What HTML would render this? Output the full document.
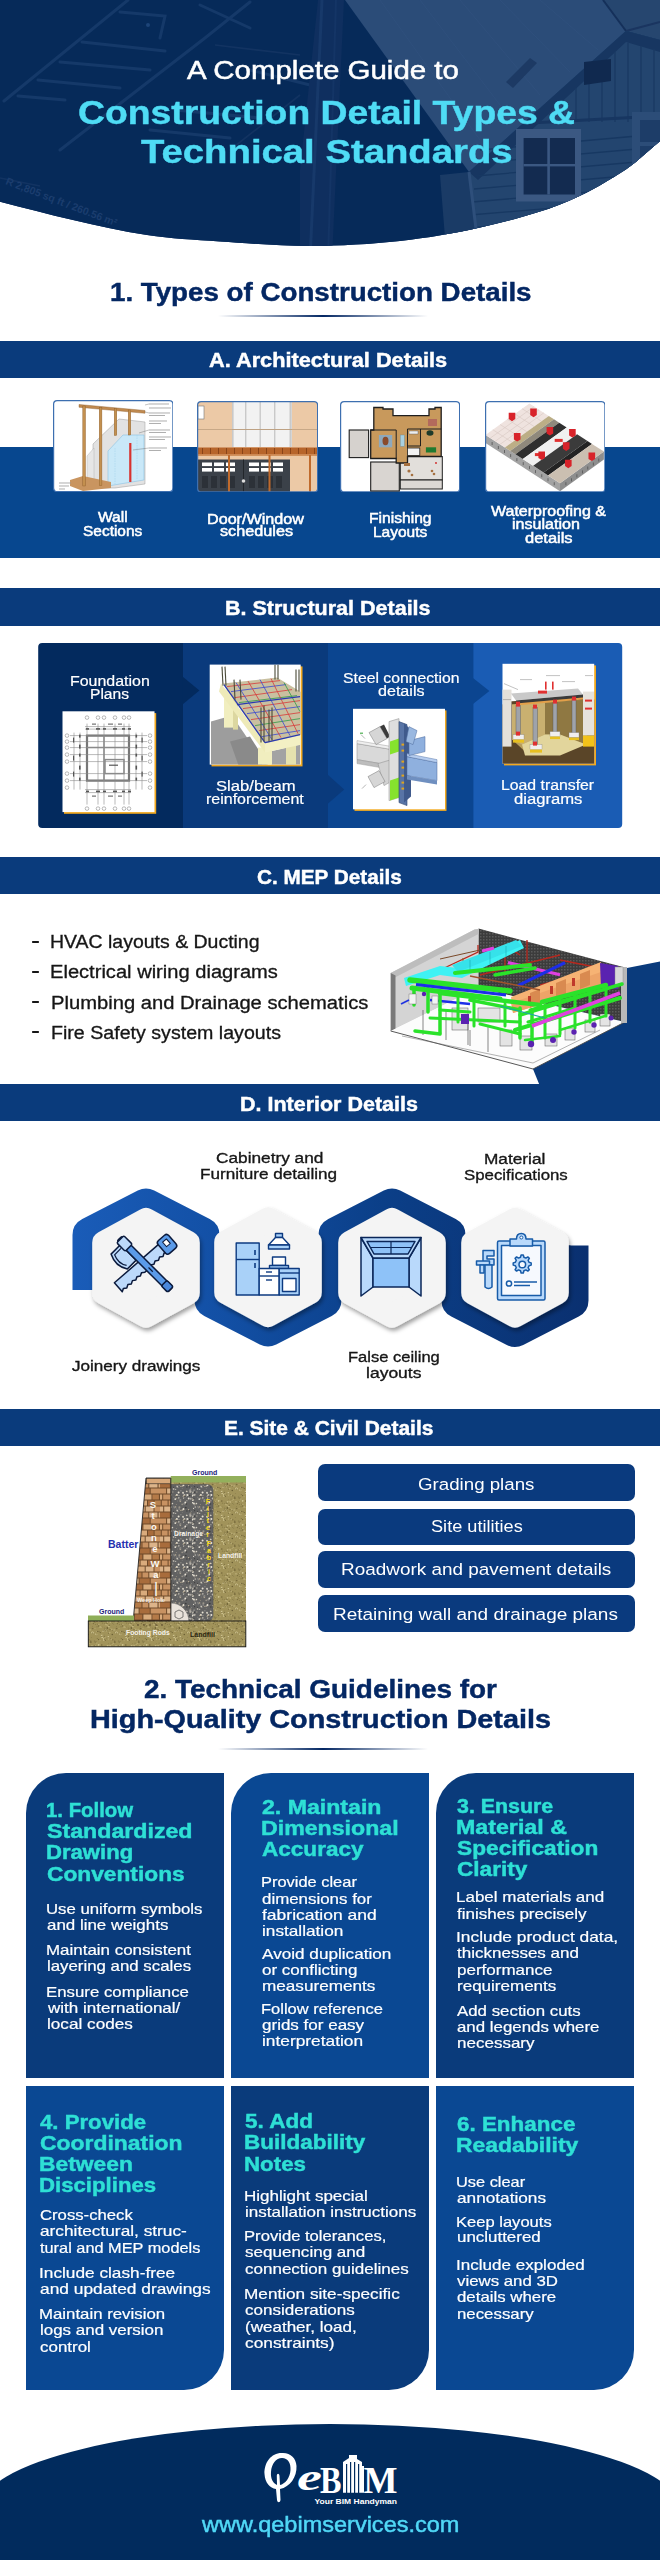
<!DOCTYPE html>
<html><head><meta charset="utf-8">
<style>
*{margin:0;padding:0;box-sizing:border-box}
html,body{width:660px;height:2560px;background:#fff;overflow:hidden}
body{position:relative;font-family:"Liberation Sans",sans-serif}
.a{position:absolute}
.t{position:absolute;white-space:nowrap;line-height:1;transform-origin:0 0}
.bar{position:absolute;left:0;width:660px;background:#0a3b7c}
.card{position:absolute;width:198px;height:304px}
.dk{background:#0a3b7b}
.lt{background:#0a4893}
.btn{position:absolute;left:318px;width:317px;height:37px;border-radius:7px;background:#0a3a7e}
.pic{position:absolute;background:#fff;overflow:hidden}
.ab{border:1.3px solid #3d6fb0;border-radius:4px}
.sh{box-shadow:2px 2px 0 #f2a91f}
</style></head><body>

<!-- HEADER -->
<svg class="a" style="left:0;top:0" width="660" height="260" viewBox="0 0 660 260">
  <defs>
    <clipPath id="hc"><path d="M0 0 H660 V141.2 C646.7 151.9 636.7 162.8 620.0 173.3 C603.3 183.9 583.3 195.4 560.0 204.5 C536.7 213.6 506.7 221.5 480.0 227.6 C453.3 233.7 428.3 237.9 400.0 241.0 C371.7 244.1 340.0 245.9 310.0 246.0 C280.0 246.1 247.2 243.3 220.0 241.5 C192.8 239.7 171.5 238.6 147.0 235.0 C122.5 231.4 97.5 225.6 73.0 220.0 C48.5 214.4 24.3 207.8 0.0 201.7 Z"/></clipPath>
  </defs>
  <g clip-path="url(#hc)">
    <rect width="660" height="260" fill="#0b2b5b"/>
    <rect x="0" y="0" width="660" height="260" fill="#062a59"/>
    <!-- faint blueprint lines -->
    <g stroke="#173b6b" stroke-width="3" fill="none" stroke-linecap="round" opacity="0.9">
      <path d="M4 101 L128 0"/>
      <path d="M60 150 L205 38 L250 2"/>
      <path d="M82 42 L165 51"/>
      <path d="M60 62 L150 70"/>
      <path d="M38 80 L120 88"/>
      <path d="M18 96 L65 100"/>
      <path d="M120 12 L165 16 L160 38"/>
      <path d="M200 5 L250 28"/>
      <path d="M175 110 L260 118"/>
      <path d="M150 130 L230 138"/>
      <path d="M250 70 L330 90"/>
    </g>
    <g stroke="#143563" stroke-width="1.6" fill="none" opacity="0.9">
      <path d="M215 45 L300 55"/><path d="M230 150 L300 95"/><path d="M0 178 L40 186"/>
    </g>
    <circle cx="148" cy="25" r="2" fill="#1d4478"/>
    <text x="5" y="184" font-family="Liberation Sans" font-size="10.5" font-weight="bold" fill="#1b3d6e" transform="rotate(21 5 184)">R  2,805 sq ft / 260.56 m²</text>
    <!-- pencil -->
    <polygon points="300,170 318,0 344,0 332,260 300,260" fill="#0f2f5f"/>
    <line x1="322" y1="0" x2="310" y2="260" stroke="#17396a" stroke-width="3"/>
    <line x1="336" y1="0" x2="328" y2="260" stroke="#143566" stroke-width="2"/>
    <!-- roof plane -->
    <polygon points="345,0 603,0 626,31 469,172" fill="#2b4c78"/>
    <g stroke="#30517d" stroke-width="0.8">
      <line x1="380" y1="0" x2="480" y2="140"/><line x1="420" y1="0" x2="510" y2="118"/><line x1="460" y1="0" x2="540" y2="95"/><line x1="500" y1="0" x2="570" y2="72"/><line x1="540" y1="0" x2="598" y2="50"/>
    </g>
    <polygon points="506,82 530,58 537,63 513,88" fill="#1d3a64"/>
    <!-- right roof -->
    <polygon points="603,0 660,0 660,40 626,31" fill="#26466f"/>
    <line x1="603" y1="0" x2="626" y2="31" stroke="#15305a" stroke-width="2"/>
    <line x1="626" y1="31" x2="660" y2="22" stroke="#1a3560" stroke-width="2"/>
    <!-- gable wall -->
    <polygon points="626,31 660,40 660,260 440,260 469,172" fill="#23456f"/>
    <polygon points="626,31 660,40 660,52 626,42 478,180 469,172" fill="#173661"/>
    <g stroke="#1a3a64" stroke-width="1.4">
      <line x1="576" y1="88" x2="576" y2="122"/><line x1="589" y1="76" x2="589" y2="122"/><line x1="602" y1="64" x2="602" y2="122"/><line x1="615" y1="52" x2="615" y2="122"/>
      <line x1="628" y1="43" x2="628" y2="122"/><line x1="641" y1="46" x2="641" y2="122"/><line x1="654" y1="49" x2="654" y2="122"/>
      <line x1="563" y1="100" x2="563" y2="122"/><line x1="550" y1="112" x2="550" y2="122"/>
    </g>
    <line x1="530" y1="123" x2="660" y2="116" stroke="#173661" stroke-width="3"/>
    <g stroke="#173862" stroke-width="1.3">
      <line x1="480" y1="150" x2="660" y2="134"/><line x1="478" y1="163" x2="660" y2="147"/><line x1="476" y1="176" x2="660" y2="160"/>
      <line x1="474" y1="189" x2="660" y2="173"/><line x1="472" y1="202" x2="660" y2="186"/><line x1="470" y1="215" x2="660" y2="199"/>
      <line x1="468" y1="228" x2="660" y2="212"/><line x1="466" y1="241" x2="660" y2="225"/>
    </g>
    <polygon points="584,62 611,59 611,81 584,85" fill="#10294f"/>
    <!-- window -->
    <rect x="516" y="129" width="65" height="72.5" fill="#3b5882"/>
    <rect x="523.6" y="138" width="51.4" height="56.5" fill="#132b50"/>
    <rect x="547.3" y="138" width="2.6" height="56.5" fill="#3b5882"/>
    <rect x="523.6" y="164" width="51.4" height="2.4" fill="#3b5882"/>
    <rect x="632" y="112" width="30" height="60" fill="#2c4d78"/>
    <rect x="640" y="120" width="22" height="22" fill="#1d3d68"/>
    <rect x="640" y="146" width="22" height="22" fill="#1d3d68"/>
    <!-- fascia at left of wall -->
    <polygon points="440,175 469,172 478,245 446,250" fill="#1a3b66"/>
    <line x1="469" y1="172" x2="478" y2="245" stroke="#2e4f7b" stroke-width="3"/>

  </g>
</svg>

<!-- underline 1 -->
<div class="a" style="left:218px;top:315px;width:210px;height:2px;background:linear-gradient(90deg,rgba(4,39,99,0),#042763 50%,rgba(4,39,99,0))"></div>

<!-- A -->
<div class="bar" style="top:340.5px;height:37.8px"></div>
<div class="bar" style="top:446.7px;height:111.7px;background:#07478f"></div>
<!-- card 1: wall section -->
<svg class="a" style="left:52.5px;top:400.2px" width="120.5" height="92.2" viewBox="0 0 120.5 92.2">
  <rect x="0.6" y="0.6" width="119.3" height="91" rx="3.5" fill="#fff" stroke="#3d6fb0" stroke-width="1.2"/>
  <polygon points="40,44 66,19 92,22 92,84 62,88 40,88" fill="#e2e2e2" stroke="#9a9a9a" stroke-width="0.5"/>
  <polygon points="34,56 41,48 41,88 34,88" fill="#e6e6e6" stroke="#aaa" stroke-width="0.4"/>
  <polygon points="55,51 70,35 91,35 91,80 55,86" fill="#c9e8f8" stroke="#8cc3e3" stroke-width="0.6"/>
  <line x1="62" y1="48" x2="62" y2="84" stroke="#9fd0ea" stroke-width="0.5" stroke-dasharray="1.5 1"/>
  <line x1="84" y1="35" x2="84" y2="80" stroke="#9fd0ea" stroke-width="0.5" stroke-dasharray="1.5 1"/>
  <polygon points="17,80 30,76 58,82 58,88 30,91 17,86" fill="#c99560"/>
  <polygon points="26,4.5 92,10.5 92,13.3 26,7.3" fill="#c08a50" stroke="#8a5a28" stroke-width="0.4"/>
  <g fill="#c3904f" stroke="#8a5a28" stroke-width="0.4">
    <rect x="29.8" y="6" width="2.7" height="80"/>
    <rect x="46.2" y="7.5" width="2.7" height="78"/>
    <rect x="61.2" y="8.5" width="2.6" height="27"/>
    <rect x="75.2" y="10" width="2.6" height="25"/>
  </g>
  <rect x="76.2" y="43" width="2.2" height="39" fill="#d8322e"/>
  <g stroke="#999" stroke-width="0.8">
    <line x1="96" y1="4" x2="116" y2="4"/><line x1="96" y1="8" x2="118" y2="8"/>
    <line x1="96" y1="13" x2="117" y2="13"/><line x1="96" y1="15.5" x2="112" y2="15.5"/>
    <line x1="96" y1="21" x2="114" y2="21"/><line x1="96" y1="23.5" x2="108" y2="23.5"/>
    <line x1="96" y1="30" x2="117" y2="30"/><line x1="96" y1="32.5" x2="113" y2="32.5"/>
    <line x1="96" y1="37" x2="118" y2="37"/><line x1="96" y1="39.5" x2="112" y2="39.5"/>
    <line x1="96" y1="48" x2="114" y2="48"/><line x1="96" y1="50.5" x2="108" y2="50.5"/>
    <line x1="6" y1="83" x2="18" y2="83"/><line x1="6" y1="86" x2="16" y2="86"/><line x1="6" y1="89" x2="12" y2="89"/>
  </g>
  <g stroke="#666" stroke-width="0.4"><line x1="92" y1="5" x2="96" y2="4"/><line x1="92" y1="12" x2="96" y2="13"/><line x1="86" y1="33" x2="96" y2="30"/><line x1="80" y1="50" x2="96" y2="48"/></g>
</svg>
<!-- card 2: door/window -->
<svg class="a" style="left:196.7px;top:400.8px" width="121.3" height="91.5" viewBox="0 0 121.3 91.5">
  <defs><clipPath id="c2c"><rect x="0.6" y="0.6" width="120" height="90.3" rx="3.5"/></clipPath></defs>
  <g clip-path="url(#c2c)">
    <rect width="121.3" height="91.5" fill="#ecc9a6"/>
    <rect x="35" y="0" width="60" height="46" fill="#f2f2f2"/>
    <g fill="#c9c9c9"><rect x="35" y="0" width="1.6" height="46"/><rect x="48" y="0" width="1.4" height="46"/><rect x="62.5" y="0" width="1.4" height="46"/><rect x="77" y="0" width="1.4" height="46"/><rect x="92.5" y="0" width="2.2" height="46"/></g>
    <rect x="35" y="28" width="60" height="1" fill="#b8a898"/>
    <rect x="0" y="28" width="121" height="0.8" fill="#c0a080"/>
    <rect x="1" y="5" width="6" height="13" fill="#fff" stroke="#777" stroke-width="0.6"/>
    <rect x="0" y="46.5" width="121.3" height="7" fill="#b7652b"/>
    <g fill="#8a4418"><rect x="5" y="47" width="1" height="6"/><rect x="13" y="47" width="1" height="6"/><rect x="21" y="47" width="1" height="6"/><rect x="29" y="47" width="1" height="6"/><rect x="37" y="47" width="1" height="6"/><rect x="45" y="47" width="1" height="6"/><rect x="53" y="47" width="1" height="6"/><rect x="61" y="47" width="1" height="6"/><rect x="69" y="47" width="1" height="6"/><rect x="77" y="47" width="1" height="6"/><rect x="85" y="47" width="1" height="6"/><rect x="93" y="47" width="1" height="6"/><rect x="101" y="47" width="1" height="6"/><rect x="109" y="47" width="1" height="6"/><rect x="117" y="47" width="1" height="6"/></g>
    <rect x="0" y="53.5" width="121.3" height="1.2" fill="#c77a3e"/>
    <rect x="0" y="58.5" width="93" height="33" fill="#3b4149"/>
    <g fill="#fff"><rect x="5" y="61.5" width="10" height="3.6"/><rect x="17" y="61.5" width="10" height="3.6"/><rect x="29" y="61.5" width="9" height="3.6"/><rect x="5" y="67" width="10" height="3.6"/><rect x="17" y="67" width="10" height="3.6"/><rect x="29" y="67" width="9" height="3.6"/>
      <rect x="52" y="61.5" width="10" height="3.6"/><rect x="64" y="61.5" width="10" height="3.6"/><rect x="76" y="61.5" width="10" height="3.6"/><rect x="52" y="67" width="10" height="3.6"/><rect x="64" y="67" width="10" height="3.6"/><rect x="76" y="67" width="10" height="3.6"/></g>
    <g fill="#2c3138"><rect x="5" y="75" width="6" height="12"/><rect x="14" y="75" width="6" height="12"/><rect x="23" y="75" width="6" height="12"/><rect x="32" y="75" width="6" height="12"/><rect x="52" y="75" width="6" height="12"/><rect x="61" y="75" width="6" height="12"/><rect x="70" y="75" width="6" height="12"/><rect x="79" y="75" width="6" height="12"/></g>
    <rect x="46" y="58.5" width="1" height="33" fill="#22262b"/>
    <circle cx="46.5" cy="80" r="1.8" fill="#ddd"/>
    <g fill="#c06a2c"><rect x="31" y="54" width="2" height="38"/><rect x="71.5" y="54" width="2" height="38"/><rect x="112" y="54" width="2" height="38"/></g>
  </g>
  <rect x="0.6" y="0.6" width="120" height="90.3" rx="3.5" fill="none" stroke="#3d6fb0" stroke-width="1.2"/>
</svg>
<!-- card 3: floor plan -->
<svg class="a" style="left:340.1px;top:400.8px" width="120.3" height="91.5" viewBox="0 0 120.3 91.5">
  <rect x="0.6" y="0.6" width="119" height="90.3" rx="3.5" fill="#fff" stroke="#3d6fb0" stroke-width="1.2"/>
  <rect x="9.2" y="29" width="19.4" height="27.6" fill="#d6d2ce" stroke="#1e1e1e" stroke-width="1.1"/>
  <rect x="30.7" y="61" width="28.6" height="29" fill="#d9d5d1" stroke="#1e1e1e" stroke-width="1.1"/>
  <rect x="60.3" y="55.5" width="42" height="23.5" fill="#e2dfdb" stroke="#1e1e1e" stroke-width="1"/>
  <rect x="60.3" y="79" width="42" height="9" fill="#dcd8d4" stroke="#1e1e1e" stroke-width="1"/>
  <path d="M33.8 6.5 H43 V8 H53 V14.6 H89 V8 H95 V6.5 H101.2 V55.5 H67.5 V62 H56.2 V57.5 H30.7 V29 H33.8 Z" fill="#c8995c" stroke="#1e1e1e" stroke-width="1.3"/>
  
  <g stroke="#1e1e1e" stroke-width="1" fill="none">
    <line x1="30.7" y1="29" x2="56.2" y2="29"/><line x1="56.2" y1="29" x2="56.2" y2="57.5"/>
    <line x1="67.5" y1="28" x2="101.2" y2="28"/><line x1="67.5" y1="28" x2="67.5" y2="47"/><line x1="80.5" y1="28" x2="80.5" y2="45"/>
    <line x1="80.5" y1="45" x2="67.5" y2="45"/>
  </g>
  <rect x="67.5" y="47" width="12.3" height="7.5" fill="#f2f2f2" stroke="#1e1e1e" stroke-width="0.8"/>
  <rect x="38.9" y="34" width="13.3" height="12.3" fill="#8ea8bc"/>
  <ellipse cx="45.5" cy="40" rx="3" ry="4.2" fill="#8a4a2a"/>
  <rect x="60.3" y="34" width="4.1" height="11.3" fill="#a8d0e0" stroke="#6a8a9a" stroke-width="0.4"/>
  <rect x="85.9" y="46.3" width="10.2" height="5.2" fill="#1f7a30"/>
  <ellipse cx="90" cy="32" rx="3.5" ry="2.8" fill="#1d3a2a"/>
  <rect x="88" y="18" width="9" height="7" fill="#b36a5c"/>
  <rect x="69" y="30" width="9" height="3" fill="#eeeeee" stroke="#555" stroke-width="0.4"/>
  <g fill="#a57040"><circle cx="92" cy="70" r="1.3"/><circle cx="94" cy="73" r="1.3"/><circle cx="69" cy="70" r="1.6"/><circle cx="72" cy="74" r="1.3"/><rect x="64" y="62" width="6" height="3"/></g>
  <circle cx="96" cy="62" r="0.9" fill="#d02020"/>
</svg>
<!-- card 4: waterproofing -->
<svg class="a" style="left:484.7px;top:400.8px" width="120.5" height="91.5" viewBox="0 0 120.5 91.5">
  <rect x="0.6" y="0.6" width="119.3" height="90.3" rx="3.5" fill="#fff"/>
  <polygon points="0.5,34.0 75.0,82.2 75.0,90.2 0.5,42.0" fill="#a3a3a3"/>
  <polygon points="75.0,82.2 118.9,50.6 118.9,58.6 75.0,90.2" fill="#8e8e8e"/>
  <polygon points="0.5,34.0 44.4,2.4 63.8,14.9 19.9,46.5" fill="#efe3df"/>
  <polygon points="19.9,46.5 63.8,14.9 69.0,18.3 25.1,49.9" fill="#bcae86"/>
  <polygon points="25.1,49.9 69.0,18.3 74.2,21.7 30.3,53.3" fill="#8f897c"/>
  <polygon points="30.3,53.3 74.2,21.7 81.7,26.5 37.8,58.1" fill="#2f2f2f"/>
  <polygon points="37.8,58.1 81.7,26.5 92.1,33.2 48.2,64.8" fill="#f0f0f0"/>
  <polygon points="48.2,64.8 92.1,33.2 102.5,40.0 58.6,71.6" fill="#3b3b3b"/>
  <polygon points="58.6,71.6 102.5,40.0 107.0,42.9 63.1,74.5" fill="#232323"/>
  <polygon points="63.1,74.5 107.0,42.9 118.9,50.6 75.0,82.2" fill="#cbbfb1"/>
  <line x1="7.8" y1="28.7" x2="27.2" y2="41.3" stroke="#d2c2bc" stroke-width="0.5"/>
  <line x1="15.1" y1="23.5" x2="34.5" y2="36.0" stroke="#d2c2bc" stroke-width="0.5"/>
  <line x1="22.4" y1="18.2" x2="41.8" y2="30.7" stroke="#d2c2bc" stroke-width="0.5"/>
  <line x1="29.8" y1="12.9" x2="49.1" y2="25.5" stroke="#d2c2bc" stroke-width="0.5"/>
  <line x1="37.1" y1="7.7" x2="56.5" y2="20.2" stroke="#d2c2bc" stroke-width="0.5"/>
  <line x1="5.3" y1="37.1" x2="49.2" y2="5.5" stroke="#d2c2bc" stroke-width="0.5"/>
  <line x1="10.2" y1="40.3" x2="54.1" y2="8.7" stroke="#d2c2bc" stroke-width="0.5"/>
  <line x1="15.0" y1="43.4" x2="58.9" y2="11.8" stroke="#d2c2bc" stroke-width="0.5"/>
  <rect x="6.7" y="41.0" width="0.8" height="3" fill="#555"/>
  <rect x="12.9" y="45.0" width="0.8" height="3" fill="#555"/>
  <rect x="19.1" y="49.0" width="0.8" height="3" fill="#555"/>
  <rect x="25.3" y="53.1" width="0.8" height="3" fill="#555"/>
  <rect x="31.5" y="57.1" width="0.8" height="3" fill="#555"/>
  <rect x="37.8" y="61.1" width="0.8" height="3" fill="#555"/>
  <rect x="44.0" y="65.1" width="0.8" height="3" fill="#555"/>
  <rect x="50.2" y="69.1" width="0.8" height="3" fill="#555"/>
  <rect x="56.4" y="73.2" width="0.8" height="3" fill="#555"/>
  <rect x="62.6" y="77.2" width="0.8" height="3" fill="#555"/>
  <rect x="68.8" y="81.2" width="0.8" height="3" fill="#555"/>
  <rect x="80.5" y="81.2" width="0.8" height="3" fill="#555"/>
  <rect x="86.0" y="77.3" width="0.8" height="3" fill="#555"/>
  <rect x="91.5" y="73.3" width="0.8" height="3" fill="#555"/>
  <rect x="97.0" y="69.4" width="0.8" height="3" fill="#555"/>
  <rect x="102.4" y="65.5" width="0.8" height="3" fill="#555"/>
  <rect x="107.9" y="61.5" width="0.8" height="3" fill="#555"/>
  <rect x="113.4" y="57.5" width="0.8" height="3" fill="#555"/>
  <rect x="49.9" y="52.1" width="8" height="3" fill="#e03030"/>
  <rect x="69.7" y="37.9" width="8" height="3" fill="#e03030"/>
  <path d="M23.7 11.7 h6.6 v6.4 l-3.3 2.2 l-3.3 -2.2 Z" fill="#d8232a"/>
  <path d="M45.2 7.6 h6.6 v6.4 l-3.3 2.2 l-3.3 -2.2 Z" fill="#d8232a"/>
  <path d="M28.9 32.0 h6.6 v6.4 l-3.3 2.2 l-3.3 -2.2 Z" fill="#d8232a"/>
  <path d="M61.6 26.0 h6.6 v6.4 l-3.3 2.2 l-3.3 -2.2 Z" fill="#d8232a"/>
  <path d="M53.4 50.5 h6.6 v6.4 l-3.3 2.2 l-3.3 -2.2 Z" fill="#d8232a"/>
  <path d="M84.1 28.0 h6.6 v6.4 l-3.3 2.2 l-3.3 -2.2 Z" fill="#d8232a"/>
  <path d="M77.9 41.3 h6.6 v6.4 l-3.3 2.2 l-3.3 -2.2 Z" fill="#d8232a"/>
  <path d="M80.0 58.7 h6.6 v6.4 l-3.3 2.2 l-3.3 -2.2 Z" fill="#d8232a"/>
  <path d="M103.5 51.5 h6.6 v6.4 l-3.3 2.2 l-3.3 -2.2 Z" fill="#d8232a"/>
  <rect x="0.6" y="0.6" width="119.3" height="90.3" rx="3.5" fill="none" stroke="#3d6fb0" stroke-width="1.2"/>
</svg>


<!-- B -->
<div class="bar" style="top:588px;height:37.6px"></div>
<svg class="a" style="left:38px;top:643.4px" width="584.5" height="185" viewBox="38 643.4 584.5 185">
  <defs><clipPath id="pc"><rect x="38.2" y="643.4" width="584" height="185" rx="4"/></clipPath></defs>
  <g clip-path="url(#pc)">
    <rect x="38" y="643" width="146" height="186" fill="#032a5e"/>
    <rect x="183" y="643" width="146" height="186" fill="#0a3a7c"/>
    <rect x="328" y="643" width="146" height="186" fill="#0b4590"/>
    <rect x="473.4" y="643" width="150" height="186" fill="#1a5cb4"/>
    <polygon points="182.5,677 199.4,691 182.5,705" fill="#032a5e"/>
    <polygon points="327.5,775 344.2,790 327.5,804.5" fill="#0a3a7c"/>
    <polygon points="473,678.5 489.4,691.5 473,704.5" fill="#0b4590"/>
  </g>
  <!-- foundation plan -->
  <rect x="64" y="713.5" width="92.2" height="100.7" fill="#f2a91f"/>
  <rect x="62.5" y="711.7" width="92" height="100.8" fill="#fff"/>
  <g stroke="#8a8a8a" stroke-width="0.6" fill="none">
    <rect x="87" y="736" width="42" height="45" stroke="#707070" stroke-width="2.2"/>
    <line x1="87" y1="748" x2="129" y2="748" stroke-width="1.5"/>
    <line x1="104" y1="736" x2="104" y2="781" stroke-width="1.5"/>
    <rect x="105" y="760" width="19" height="14" stroke-width="1.5"/>
    <line x1="70" y1="736" x2="147" y2="736"/><line x1="70" y1="742" x2="147" y2="742"/>
    <line x1="70" y1="748" x2="147" y2="748"/><line x1="70" y1="755" x2="147" y2="755"/>
    <line x1="70" y1="762" x2="147" y2="762"/><line x1="70" y1="774" x2="147" y2="774"/>
    <line x1="70" y1="781" x2="147" y2="781"/>
    <line x1="87" y1="724" x2="87" y2="805"/><line x1="98" y1="724" x2="98" y2="805"/>
    <line x1="104" y1="724" x2="104" y2="805"/><line x1="115" y1="724" x2="115" y2="805"/>
    <line x1="124" y1="724" x2="124" y2="805"/><line x1="129" y1="724" x2="129" y2="805"/>
    <line x1="85" y1="727" x2="131" y2="727"/><line x1="85" y1="729.5" x2="131" y2="729.5"/>
    <line x1="85" y1="790" x2="131" y2="790"/><line x1="85" y1="793" x2="131" y2="793"/>
    <line x1="74" y1="733" x2="74" y2="790"/><line x1="142" y1="733" x2="142" y2="790"/>
    <line x1="80" y1="733" x2="80" y2="790"/><line x1="136" y1="733" x2="136" y2="790"/>
  </g>
  <g fill="#fff" stroke="#8a8a8a" stroke-width="0.6">
    <circle cx="87" cy="718" r="1.8"/><circle cx="98" cy="718" r="1.8"/><circle cx="104" cy="718" r="1.8"/><circle cx="115" cy="718" r="1.8"/><circle cx="124" cy="718" r="1.8"/><circle cx="129" cy="718" r="1.8"/>
    <circle cx="87" cy="809" r="1.8"/><circle cx="98" cy="809" r="1.8"/><circle cx="104" cy="809" r="1.8"/><circle cx="115" cy="809" r="1.8"/><circle cx="124" cy="809" r="1.8"/><circle cx="129" cy="809" r="1.8"/>
    <circle cx="67" cy="736" r="1.8"/><circle cx="67" cy="742" r="1.8"/><circle cx="67" cy="748" r="1.8"/><circle cx="67" cy="755" r="1.8"/><circle cx="67" cy="762" r="1.8"/><circle cx="67" cy="774" r="1.8"/><circle cx="67" cy="781" r="1.8"/><circle cx="67" cy="788" r="1.8"/>
    <circle cx="150" cy="736" r="1.8"/><circle cx="150" cy="742" r="1.8"/><circle cx="150" cy="748" r="1.8"/><circle cx="150" cy="755" r="1.8"/><circle cx="150" cy="762" r="1.8"/><circle cx="150" cy="774" r="1.8"/><circle cx="150" cy="781" r="1.8"/><circle cx="150" cy="788" r="1.8"/>
  </g>
  <g fill="#555">
    <rect x="86" y="728.5" width="3" height="1.6"/><rect x="96" y="728.5" width="4" height="1.6"/><rect x="103" y="728.5" width="3" height="1.6"/><rect x="113" y="728.5" width="4" height="1.6"/><rect x="122" y="728.5" width="3" height="1.6"/><rect x="128" y="728.5" width="3" height="1.6"/>
    <rect x="86" y="791" width="3" height="1.6"/><rect x="96" y="791" width="4" height="1.6"/><rect x="103" y="791" width="3" height="1.6"/><rect x="113" y="791" width="4" height="1.6"/><rect x="122" y="791" width="3" height="1.6"/><rect x="128" y="791" width="3" height="1.6"/>
    <rect x="79" y="735" width="1.6" height="3"/><rect x="79" y="745" width="1.6" height="4"/><rect x="79" y="754" width="1.6" height="3"/><rect x="79" y="766" width="1.6" height="4"/><rect x="79" y="778" width="1.6" height="3"/>
    <rect x="135.5" y="735" width="1.6" height="3"/><rect x="135.5" y="745" width="1.6" height="4"/><rect x="135.5" y="754" width="1.6" height="3"/><rect x="135.5" y="766" width="1.6" height="4"/><rect x="135.5" y="778" width="1.6" height="3"/>
    <rect x="73" y="738" width="1.2" height="5"/><rect x="73" y="756" width="1.2" height="5"/><rect x="73" y="772" width="1.2" height="5"/>
    <rect x="141.5" y="738" width="1.2" height="5"/><rect x="141.5" y="756" width="1.2" height="5"/><rect x="141.5" y="772" width="1.2" height="5"/>
    <rect x="92" y="724" width="4" height="1"/><rect x="108" y="724" width="5" height="1"/><rect x="118" y="724" width="4" height="1"/>
    <rect x="92" y="796" width="4" height="1"/><rect x="108" y="796" width="5" height="1"/><rect x="118" y="796" width="4" height="1"/>
    <rect x="109" y="765" width="9" height="1.2"/>
  </g>
  <!-- slab -->
  <rect x="211.5" y="666.8" width="91" height="100" fill="#f2a91f"/>
  <rect x="209.7" y="665" width="91" height="100" fill="#fff"/>
  <defs><clipPath id="slc"><rect x="209.7" y="665" width="91" height="100"/></clipPath></defs>
  <g clip-path="url(#slc)">
    <polygon points="211,722 232,716 262,760 262,770 211,770" fill="#9d9d9d"/>
    <polygon points="230,742 250,737 268,765 240,770" fill="#8a8a8a"/>
    <polygon points="270,752 300,745 300,770 272,770" fill="#a3a3a3"/>
    <rect x="224" y="690" width="10" height="38" fill="#f1eebf"/>
    <rect x="233" y="700" width="5" height="30" fill="#dcd7a0"/>
    <rect x="258" y="748" width="14" height="20" fill="#f1eebf"/>
    <rect x="286" y="742" width="10" height="25" fill="#e6e2ae"/>
    <polygon points="221,684 265,744 265,753 219,692" fill="#eeeab8"/>
    <polygon points="265,744 302,735 302,745 265,753" fill="#f3f0c4"/>
    <polygon points="223,684 277,678 302,693 302,735 265,744" fill="#c9c0a0"/>
    <g stroke-width="0.8" fill="none">
      <line x1="227" y1="687" x2="280" y2="681" stroke="#d83a3a"/>
      <line x1="231" y1="692" x2="286" y2="685" stroke="#3a48d0"/>
      <line x1="235" y1="698" x2="292" y2="690" stroke="#d83a3a"/>
      <line x1="239" y1="703" x2="297" y2="696" stroke="#2f9a48"/>
      <line x1="243" y1="709" x2="300" y2="701" stroke="#d83a3a"/>
      <line x1="247" y1="714" x2="300" y2="707" stroke="#3a48d0"/>
      <line x1="251" y1="720" x2="300" y2="713" stroke="#d83a3a"/>
      <line x1="255" y1="726" x2="300" y2="719" stroke="#2f9a48"/>
      <line x1="259" y1="731" x2="300" y2="725" stroke="#d83a3a"/>
      <line x1="262" y1="737" x2="300" y2="731" stroke="#3a48d0"/>
      <line x1="236" y1="683" x2="272" y2="740" stroke="#3a48d0"/>
      <line x1="248" y1="681.5" x2="281" y2="738" stroke="#d83a3a"/>
      <line x1="260" y1="680" x2="290" y2="736" stroke="#3a48d0"/>
      <line x1="271" y1="679" x2="298" y2="734" stroke="#d83a3a"/>
      <line x1="284" y1="683" x2="300" y2="712" stroke="#2f9a48"/>
      <line x1="224" y1="685" x2="265" y2="743" stroke="#2a3ab0" stroke-width="1.3"/>
      <line x1="265" y1="743" x2="300" y2="735" stroke="#2a3ab0" stroke-width="1.3"/>
      <line x1="237" y1="705" x2="300" y2="697" stroke="#2a3ab0" stroke-width="1.2"/>
    </g>
    <g stroke="#4a4a38" stroke-width="1.1">
      <line x1="222" y1="667" x2="223" y2="686"/><line x1="225" y1="667" x2="226" y2="686"/>
      <line x1="275" y1="665" x2="275" y2="680"/><line x1="278" y1="665" x2="278" y2="680"/>
      <line x1="296" y1="670" x2="296" y2="692"/><line x1="299" y1="670" x2="299" y2="692"/>
      <line x1="234" y1="680" x2="235" y2="700"/><line x1="240" y1="680" x2="241" y2="700"/>
      <line x1="261" y1="708" x2="261" y2="743"/><line x1="264" y1="706" x2="264" y2="742"/><line x1="269" y1="710" x2="269" y2="742"/><line x1="272" y1="708" x2="272" y2="741"/>
    </g>
  </g>
  <!-- steel -->
  <rect x="354.5" y="710.8" width="92" height="100.5" fill="#f2a91f"/>
  <rect x="353" y="709.2" width="92" height="100.5" fill="#fff"/>
  <g stroke-linejoin="round">
    <polygon points="357,744 392,750 392,766 357,760" fill="#d9d9d9" stroke="#8a8a8a" stroke-width="0.5"/>
    <polygon points="357,741 392,747 392,750 357,744" fill="#efefef" stroke="#8a8a8a" stroke-width="0.4"/>
    <polygon points="357,760 392,766 392,770 357,764" fill="#bdbdbd" stroke="#8a8a8a" stroke-width="0.4"/>
    <polygon points="378,764 398,758 398,778 384,786" fill="#d2d2d2" stroke="#8a8a8a" stroke-width="0.5"/>
    <polygon points="369,733 380,727 387,739 376,745" fill="#d6d6d6" stroke="#777" stroke-width="0.5"/>
    <polygon points="380,727 384,725 390,737 387,739" fill="#3a3a3a"/>
    <polygon points="368,777 379,771 385,782 374,788" fill="#d6d6d6" stroke="#777" stroke-width="0.5"/>
    <polygon points="389,722 399,719 399,798 389,801" fill="#dedede" stroke="#8a8a8a" stroke-width="0.5"/>
    <polygon points="390,742 399,739 399,752 390,755" fill="#86e22e"/>
    <polygon points="390,781 399,778 399,798 390,801" fill="#86e22e"/>
    <polygon points="399,722 407,725 407,806 399,803" fill="#5874a6" stroke="#2e4470" stroke-width="0.6"/>
    <polygon points="404,724 411,730 411,797 404,803" fill="#3f5a8c"/>
    <polygon points="407,757 437,763 437,781 407,776" fill="#8fb0de" stroke="#4d6a9c" stroke-width="0.5"/>
    <polygon points="407,754 437,760 437,763 407,757" fill="#b6cdef" stroke="#4d6a9c" stroke-width="0.4"/>
    <polygon points="407,776 437,781 437,785 407,780" fill="#6f8fc0"/>
    <polygon points="409,741 425,737 425,752 409,756" fill="#8fb0de" stroke="#4d6a9c" stroke-width="0.5"/>
    <polygon points="409,727 417,731 413,745 406,742" fill="#9ab8e0" stroke="#4d6a9c" stroke-width="0.5"/>
    <g fill="#e0a41c"><rect x="401.5" y="744" width="2.6" height="2"/><rect x="401.5" y="750" width="2.6" height="2"/><rect x="401.5" y="761" width="2.6" height="2"/><rect x="401.5" y="767" width="2.6" height="2"/><rect x="401.5" y="775" width="2.6" height="2"/><rect x="401.5" y="782" width="2.6" height="2"/><rect x="401.5" y="788" width="2.6" height="2"/></g>
    <g stroke="#6a6a6a" stroke-width="0.5"><line x1="361" y1="735" x2="365" y2="739"/><line x1="362" y1="789" x2="366" y2="785"/></g>
    <rect x="360" y="733" width="3" height="1.2" fill="#4caf50"/>
  </g>
  <!-- load transfer -->
  <rect x="504" y="665.8" width="92" height="100" fill="#f2a91f"/>
  <rect x="502.5" y="664.2" width="91.7" height="100" fill="#fff"/>
  <g>
    <polygon points="508,702 590,697 594.2,700 594.2,764.2 502.5,764.2 502.5,705" fill="#5a4528"/>
    <polygon points="512,705 588,700 586,745 560,752 525,752 512,740" fill="#b79d5c"/>
    <polygon points="512,705 545,703 545,735 522,745 512,740" fill="#c9b070"/>
    <polygon points="545,703 588,700 586,745 560,735 545,735" fill="#8f7842"/>
    <polygon points="522,745 545,735 560,735 586,745 560,756 525,756" fill="#e2d59c"/>
    <rect x="502.5" y="690" width="9" height="57" fill="#e4e0da"/>
    <rect x="583" y="692" width="11" height="44" fill="#e6e2dc"/>
    <rect x="583" y="736" width="11" height="11" fill="#f2c21a"/>
    <polygon points="511,694 578,689 583,695 516,701" fill="#c9c9c9"/>
    <polygon points="516,701 583,695 583,698 516,704" fill="#3a3a3a"/>
    <polygon points="516,704 583,698 583,700 516,706" fill="#e3a04a"/>
    <g fill="#9fa3aa" stroke="#555" stroke-width="0.4">
      <rect x="516" y="706" width="4.5" height="30"/><rect x="533" y="708" width="4.5" height="38"/>
      <rect x="553" y="703" width="4" height="30"/><rect x="572" y="700" width="4" height="34"/>
    </g>
    <g fill="#f0eeee" stroke="#777" stroke-width="0.3"><rect x="513" y="735" width="11" height="5"/><rect x="530" y="745" width="12" height="5"/><rect x="550" y="732" width="10" height="5"/><rect x="569" y="733" width="10" height="5"/></g>
    <g fill="#e8c020"><rect x="513" y="740" width="11" height="3"/><rect x="530" y="750" width="12" height="3"/><rect x="550" y="737" width="10" height="2.5"/><rect x="569" y="738" width="10" height="2.5"/></g>
    <g fill="#e03030"><rect x="538" y="691" width="9" height="3"/><rect x="545" y="682" width="1.6" height="8"/><rect x="552" y="682" width="1.6" height="8"/><rect x="516" y="702" width="4" height="5"/><rect x="533" y="705" width="4" height="4"/><rect x="572" y="697" width="4" height="4"/><rect x="553" y="700" width="4" height="4"/><rect x="516" y="732" width="4" height="4"/><rect x="533" y="742" width="4" height="4"/><rect x="585" y="700" width="7" height="2"/><rect x="585" y="708" width="7" height="2"/></g>
    <g stroke="#777" stroke-width="0.45"><line x1="504" y1="684" x2="518" y2="690"/><line x1="520" y1="680" x2="532" y2="680"/><line x1="546" y1="676" x2="560" y2="676"/><line x1="562" y1="682" x2="575" y2="682"/><line x1="585" y1="676" x2="593" y2="676"/><line x1="503" y1="700" x2="511" y2="700"/></g>
  </g>
</svg>


<!-- C -->
<div class="bar" style="top:857.3px;height:37.2px"></div>
<svg class="a" style="left:380px;top:920px" width="280" height="165" viewBox="380 920 280 165">
  <defs>
    <pattern id="mesh" width="3" height="3" patternUnits="userSpaceOnUse">
      <rect width="3" height="3" fill="#3c3c3c"/><rect width="1.5" height="1.5" fill="#5a5a5a"/>
    </pattern>
  </defs>
  <polygon points="505,1000 627,968 660,961.5 660,1085 539.5,1085" fill="#0a3b7c"/>
  <!-- walls -->
  <polygon points="478.5,928.6 625,967.4 625,1022 478,988" fill="url(#mesh)"/>
  <polygon points="390.7,973 474.5,929.5 478.5,929 478.5,988 390.7,1031" fill="#d4d4d4"/>
  <polygon points="390.7,973 474.5,929.5 478.5,929 478.5,934 394,978" fill="#bdbdbd"/>
  <polygon points="390.7,973 395.5,975.5 395.5,1029 390.7,1031" fill="#7a7a7a"/>
  <polygon points="390.7,1031 478,988 625,1022 533,1069" fill="#fcfcfc"/>
  <polyline points="390.7,1031 533,1069 625,1022" fill="none" stroke="#444" stroke-width="0.9"/>
  <polyline points="402,1036 533,1063 600,1030" fill="none" stroke="#666" stroke-width="0.5"/>
  <rect x="621" y="967" width="6" height="56" fill="#b8b8b8"/>
  <!-- floor equipment -->
  <g fill="#e4e4e4" stroke="#555" stroke-width="0.5">
    <rect x="452" y="1008" width="16" height="22"/><rect x="478" y="1008" width="22" height="14"/>
    <rect x="500" y="1030" width="12" height="16"/><rect x="520" y="1036" width="12" height="14"/>
    <rect x="545" y="1034" width="12" height="12"/><rect x="565" y="1028" width="10" height="12"/><rect x="585" y="1020" width="10" height="12"/><rect x="600" y="1014" width="10" height="12"/>
  </g>
  <g stroke="#555" stroke-width="0.7"><line x1="446" y1="1010" x2="446" y2="1040"/><line x1="468" y1="1015" x2="468" y2="1045"/><line x1="423" y1="1010" x2="423" y2="1035"/><line x1="470" y1="1030" x2="470" y2="1046"/><line x1="488" y1="1025" x2="488" y2="1052"/></g>
  <!-- sprinkler red lines -->
  <g stroke="#b8281e" stroke-width="1.3" fill="none">
    <path d="M440 970 L478 952 L478 945"/><path d="M470 960 L505 945 L520 955"/>
    <path d="M480 975 L560 955"/><path d="M505 950 L505 972"/><path d="M527 940 L527 962"/>
    <path d="M540 985 L600 970"/><path d="M560 960 L600 968"/>
  </g>
  <line x1="440" y1="959" x2="480" y2="950" stroke="#7a4a2a" stroke-width="1"/>
  <line x1="463" y1="958" x2="463" y2="972" stroke="#8a6a30" stroke-width="1.2"/>
  <!-- cyan duct -->
  <polygon points="404,978 440,966 458,968 520,940 524,948 462,978 440,975 406,986" fill="#3ff2f4"/>
  <polygon points="452,965 516,940 522,946 458,972" fill="#36e2ea"/>
  <g stroke="#1aa8b0" stroke-width="0.6"><line x1="470" y1="960" x2="470" y2="972"/><line x1="490" y1="952" x2="490" y2="964"/><line x1="506" y1="946" x2="506" y2="957"/></g>
  <line x1="482" y1="951" x2="494" y2="948" stroke="#e040e0" stroke-width="3"/>
  <!-- magenta, blue -->
  <line x1="508" y1="962.6" x2="560" y2="974.7" stroke="#e040e0" stroke-width="3.2"/>
  <line x1="518" y1="985.6" x2="565" y2="962.6" stroke="#1c2ee8" stroke-width="3.2"/>
  <line x1="430" y1="1000" x2="470" y2="1004" stroke="#1c2ee8" stroke-width="2.5"/>
  <!-- orange duct -->
  <polygon points="511,997 601,962 603,985 513,1013" fill="#f6b374"/>
  <polygon points="511,1003 601,972 603,985 513,1013" fill="#eda468"/>
  <g fill="#d98a50"><polygon points="530,993 540,989 540,1004 530,1008"/><polygon points="556,983 566,979 566,994 556,998"/><polygon points="580,974 590,970 590,985 580,989"/></g>
  <g fill="#c0392b"><rect x="528" y="996" width="3" height="8"/><rect x="550" y="986" width="3" height="8"/><rect x="572" y="978" width="3" height="8"/></g>
  <polygon points="600,963 618,966 618,989 601,988" fill="#5a22b0"/>
  <rect x="615" y="967" width="8" height="18" fill="#d8d8d8" stroke="#888" stroke-width="0.4"/>
  <!-- green pipes -->
  <g stroke="#2ae22a" stroke-linecap="round" fill="none">
    <line x1="410" y1="980" x2="510" y2="991" stroke-width="5.5"/>
    <line x1="412" y1="988" x2="500" y2="999" stroke-width="5"/>
    <line x1="455" y1="973" x2="530" y2="965" stroke-width="4"/>
    <line x1="495" y1="975" x2="535" y2="968" stroke-width="3.5"/>
    <line x1="440" y1="993" x2="540" y2="1005" stroke-width="4.5"/>
    <line x1="470" y1="1000" x2="520" y2="1010" stroke-width="3.5"/>
    <line x1="542" y1="1002" x2="606" y2="985" stroke-width="4.5"/>
    <line x1="530" y1="1010" x2="600" y2="990" stroke-width="3"/>
    <line x1="528" y1="1022" x2="575" y2="1008" stroke-width="3"/>
    <line x1="440" y1="1010" x2="470" y2="1012" stroke-width="3"/>
    <line x1="415" y1="1031" x2="440" y2="1034" stroke-width="3.5"/>
    <line x1="414" y1="990" x2="414" y2="1005" stroke-width="3.5"/>
    <line x1="428" y1="988" x2="428" y2="1012" stroke-width="3.5"/>
    <line x1="440" y1="992" x2="440" y2="1033" stroke-width="3.5"/>
    <line x1="458" y1="995" x2="458" y2="1022" stroke-width="3"/>
    <line x1="474" y1="998" x2="474" y2="1026" stroke-width="3"/>
    <line x1="505" y1="1004" x2="505" y2="1026" stroke-width="3"/>
    <line x1="520" y1="1008" x2="520" y2="1038" stroke-width="3.5"/>
    <line x1="532" y1="1010" x2="532" y2="1044" stroke-width="3.5"/>
    <line x1="545" y1="1005" x2="545" y2="1038" stroke-width="3"/>
    <line x1="560" y1="1000" x2="560" y2="1034" stroke-width="3"/>
    <line x1="575" y1="996" x2="575" y2="1028" stroke-width="3"/>
    <line x1="590" y1="992" x2="590" y2="1022" stroke-width="3"/>
    <line x1="606" y1="987" x2="606" y2="1016" stroke-width="3"/>
    <line x1="525" y1="1040" x2="560" y2="1036" stroke-width="2.5"/>
    <line x1="560" y1="1030" x2="605" y2="1016" stroke-width="2.5"/>
  </g>
  <g stroke="#2ae22a" stroke-linecap="round" fill="none">
    <line x1="515" y1="1030" x2="620" y2="998" stroke-width="4"/>
    <line x1="520" y1="1015" x2="622" y2="984" stroke-width="3.5"/>
    <line x1="430" y1="1018" x2="520" y2="1022" stroke-width="3"/>
    <line x1="480" y1="1024" x2="520" y2="1034" stroke-width="3"/>
  </g>
  <line x1="416" y1="984.5" x2="506" y2="995" stroke="#1c2ee8" stroke-width="3"/>
  <line x1="532" y1="1026" x2="620" y2="993" stroke="#e040e0" stroke-width="3.6"/>
  <line x1="500" y1="1006" x2="545" y2="1018" stroke="#1aa8a0" stroke-width="1.2"/>
  <line x1="470" y1="976" x2="540" y2="990" stroke="#a0522d" stroke-width="1.5"/>
  <g fill="#5a22b0"><circle cx="466" cy="1018" r="3.2"/><rect x="461" y="1014" width="8" height="10"/><circle cx="531" cy="1044" r="3.2"/><circle cx="553" cy="1040" r="3"/><circle cx="574" cy="1032" r="2.7"/><circle cx="594" cy="1025" r="2.7"/><circle cx="611" cy="1018" r="2.5"/><circle cx="424" cy="994" r="2.2"/></g>
  <g fill="#f4f4f4" stroke="#666" stroke-width="0.4"><rect x="409" y="994" width="7" height="10"/><rect x="432" y="996" width="6" height="8"/></g>
  <line x1="401" y1="1004" x2="409" y2="1000" stroke="#2033e0" stroke-width="1.8"/>
</svg>

<div class="a" style="left:32.2px;top:941px;width:6.9px;height:1.6px;border-radius:0.7px;background:#161616"></div>
<div class="a" style="left:32.2px;top:971px;width:6.9px;height:1.6px;border-radius:0.7px;background:#161616"></div>
<div class="a" style="left:32.2px;top:1001px;width:6.9px;height:1.6px;border-radius:0.7px;background:#161616"></div>
<div class="a" style="left:32.2px;top:1031px;width:6.9px;height:1.6px;border-radius:0.7px;background:#161616"></div>

<!-- D -->
<div class="bar" style="top:1083.5px;height:37.5px"></div>
<svg class="a" style="left:60px;top:1180px" width="540" height="180" viewBox="60 1180 540 180">
  <defs>
    <linearGradient id="rg" gradientUnits="userSpaceOnUse" x1="73" y1="0" x2="588" y2="0">
      <stop offset="0" stop-color="#1a5cb8"/>
      <stop offset="0.3" stop-color="#124fa4"/>
      <stop offset="0.6" stop-color="#0b3f88"/>
      <stop offset="1" stop-color="#0a3070"/>
    </linearGradient>
    <clipPath id="cu"><rect x="60" y="1180" width="540" height="110"/></clipPath>
    <clipPath id="cd"><rect x="60" y="1245.5" width="540" height="120"/></clipPath>
    <filter id="ds" x="-20%" y="-20%" width="140%" height="150%">
      <feDropShadow dx="1.5" dy="3" stdDeviation="2.2" flood-color="#000" flood-opacity="0.38"/>
    </filter>
  </defs>
  <g fill="url(#rg)" stroke="url(#rg)" stroke-width="36" stroke-linejoin="round">
    <polygon clip-path="url(#cu)" points="146,1206.5 201.5,1235 201.5,1301 146,1329.5 90.5,1301 90.5,1235"/>
    <polygon clip-path="url(#cd)" points="268,1205.5 323.5,1234 323.5,1300 268,1328.5 212.5,1300 212.5,1234"/>
    <polygon clip-path="url(#cu)" points="392,1206.5 447.5,1235 447.5,1301 392,1329.5 336.5,1301 336.5,1235"/>
    <polygon clip-path="url(#cd)" points="515,1206 570.5,1234.5 570.5,1300.5 515,1329 459.5,1300.5 459.5,1234.5"/>
  </g>
  <g fill="#f4f4f4" stroke="#f4f4f4" stroke-width="24" stroke-linejoin="round" filter="url(#ds)">
    <polygon points="146,1219.95 187.8,1242.75 187.8,1292.75 146,1315.55 104.2,1292.75 104.2,1242.75"/>
    <polygon points="268,1219.45 309.8,1242.25 309.8,1292.25 268,1315.05 226.2,1292.25 226.2,1242.25"/>
    <polygon points="392,1219.95 433.8,1242.75 433.8,1292.75 392,1315.55 350.2,1292.75 350.2,1242.75"/>
    <polygon points="515,1219.95 556.8,1242.75 556.8,1292.75 515,1315.55 473.2,1292.75 473.2,1242.75"/>
  </g>
  <!-- icon 1: joinery -->
  <g stroke="#0b1a3c" stroke-width="1.5" stroke-linejoin="round">
    <g transform="rotate(-41 144 1265)">
      <path d="M110 1259 H170 V1271 l-3 -1.8 l-3 1.8 l-3 -1.8 l-3 1.8 l-3 -1.8 l-3 1.8 l-3 -1.8 l-3 1.8 H140 l-3 -1.8 l-3 1.8 l-3 -1.8 l-3 1.8 l-3 -1.8 l-3 1.8 l-3 -1.8 l-3 1.8 l-3 -1.8 l-3 1.8 H110 Z" fill="#bcd9fa"/>
      <rect x="168" y="1256" width="14" height="17" rx="3" fill="#5b9be9"/>
      <rect x="173" y="1260" width="5" height="6" fill="#fff" stroke-width="1"/>
    </g>
    <g transform="rotate(45 145 1264)">
      <path d="M114 1267.5 V1281 Q126 1287 136 1280 V1267.5 Z" fill="#bcd9fa"/>
      <path d="M117 1270 V1279 Q126 1283 133 1278" fill="none" stroke-width="1.2"/>
      <rect x="109" y="1260.5" width="72" height="7" rx="2" fill="#5b9be9"/>
      <rect x="172" y="1260" width="9" height="8" rx="2" fill="#4a88dc"/>
      <rect x="110" y="1259" width="12" height="10" rx="1.5" fill="#bcd9fa"/>
      <line x1="150" y1="1264" x2="156" y2="1264" stroke-width="1.2"/>
    </g>
  </g>
  <!-- icon 2: kitchen -->
  <g stroke="#0d3a80" stroke-width="1.4" stroke-linejoin="round">
    <rect x="236.2" y="1243" width="23" height="52" fill="#a9d1f8"/>
    <line x1="236.2" y1="1259.5" x2="259.2" y2="1259.5"/>
    <line x1="255" y1="1250" x2="255" y2="1255" stroke-width="1.6"/><line x1="255" y1="1263" x2="255" y2="1268" stroke-width="1.6"/>
    <rect x="275.5" y="1233.5" width="7" height="4" fill="#a9d1f8"/>
    <polygon points="268.5,1245 275.5,1237.5 282.5,1237.5 289.5,1245" fill="#fff"/>
    <rect x="268.5" y="1245" width="21" height="4" fill="#a9d1f8"/>
    <rect x="272.5" y="1257" width="13" height="8.5" fill="#fff"/>
    <rect x="269.5" y="1265.5" width="19" height="3" fill="#a9d1f8"/>
    <rect x="259.2" y="1268.5" width="20" height="26.5" fill="#fff"/>
    <line x1="259.2" y1="1276" x2="279.2" y2="1276"/>
    <line x1="266" y1="1272" x2="272" y2="1272"/><line x1="266" y1="1280" x2="272" y2="1280"/>
    <rect x="279.2" y="1268.5" width="20" height="26.5" fill="#a9d1f8"/>
    <rect x="282.5" y="1278.5" width="13.5" height="13" fill="#fff"/>
    <line x1="279.2" y1="1273" x2="299.2" y2="1273"/>
  </g>
  <!-- icon 3: false ceiling -->
  <g stroke="#0a2658" stroke-width="1.5" stroke-linejoin="round">
    <polygon points="361,1237.5 373,1258 373,1287 361,1296" fill="#b9d9fb"/>
    <polygon points="421,1237.5 409,1258 409,1287 421,1296" fill="#b9d9fb"/>
    <rect x="373" y="1258" width="36" height="29" fill="#8ec2f8"/>
    <polygon points="361,1237.5 421,1237.5 409,1258 373,1258" fill="#b9d9fb"/>
    <polygon points="367,1241.5 415,1241.5 408,1254 374,1254" fill="#8ec2f8"/>
    <line x1="370" y1="1247.5" x2="412" y2="1247.5" stroke-width="1.2"/>
    <line x1="391" y1="1241.5" x2="391" y2="1254" stroke-width="1.2"/>
  </g>
  <!-- icon 4: clipboard + wrench -->
  <g stroke="#175ba8" stroke-width="1.5" stroke-linejoin="round">
    <rect x="497.5" y="1241" width="47.5" height="59" rx="1.5" fill="#b9d9fb"/>
    <rect x="501.5" y="1245.5" width="39.5" height="50" fill="#f6f9fe"/>
    <path d="M510 1246 V1239 H516.5 Q516.5 1233.5 521.3 1233.5 Q526 1233.5 526 1239 H532.5 V1246 Z" fill="#b9d9fb"/>
    <circle cx="521.3" cy="1237.5" r="1.5" fill="#fff" stroke-width="1"/>
    <path d="M521.3 1255 l2 0 l0.6 2.2 l2 0.9 l1.9 -1.2 l1.5 1.5 l-1.2 1.9 l0.9 2 l2.2 0.6 v2.2 l-2.2 0.6 l-0.9 2 l1.2 1.9 l-1.5 1.5 l-1.9 -1.2 l-2 0.9 l-0.6 2.2 h-2.2 l-0.6 -2.2 l-2 -0.9 l-1.9 1.2 l-1.5 -1.5 l1.2 -1.9 l-0.9 -2 l-2.2 -0.6 v-2.2 l2.2 -0.6 l0.9 -2 l-1.2 -1.9 l1.5 -1.5 l1.9 1.2 l2 -0.9 l0.6 -2.2 Z" fill="#b9d9fb"/>
    <circle cx="522.3" cy="1264.5" r="3.3" fill="#f6f9fe"/>
    <circle cx="509" cy="1283.5" r="2.6" fill="#f6f9fe"/>
    <line x1="514" y1="1282" x2="537" y2="1282"/><line x1="514" y1="1285.5" x2="530" y2="1285.5"/>
    <path d="M483 1250.5 H494 V1256 H487 V1259 H494 V1265 H483 Z" fill="#b9d9fb"/>
    <rect x="476.5" y="1261" width="13" height="4" fill="#b9d9fb"/>
    <path d="M485 1265 H492 V1287 Q488.5 1290 485 1287 Z" fill="#b9d9fb"/>
    <rect x="480" y="1265" width="4" height="8" fill="#b9d9fb"/>
  </g>
</svg>


<!-- E -->
<div class="bar" style="top:1408.5px;height:37px"></div>
<svg class="a" style="left:85px;top:1460px" width="165" height="190" viewBox="85 1460 165 190">
  <defs>
    <pattern id="soil" width="24" height="24" patternUnits="userSpaceOnUse">
    <rect width="24" height="24" fill="#a1935a"/>
    <circle cx="5.7" cy="13.1" r="0.52" fill="#6b5f34"/>
    <circle cx="11.4" cy="13.9" r="0.62" fill="#d6cb98"/>
    <circle cx="6.2" cy="5.6" r="0.80" fill="#d6cb98"/>
    <circle cx="13.0" cy="13.2" r="0.53" fill="#c8bb84"/>
    <circle cx="5.6" cy="3.6" r="0.77" fill="#d6cb98"/>
    <circle cx="17.8" cy="16.1" r="0.38" fill="#6b5f34"/>
    <circle cx="1.0" cy="18.7" r="0.72" fill="#8c7f4a"/>
    <circle cx="11.3" cy="17.3" r="0.75" fill="#b5a870"/>
    <circle cx="18.9" cy="10.2" r="0.68" fill="#6b5f34"/>
    <circle cx="10.7" cy="22.5" r="0.75" fill="#7a6d3e"/>
    <circle cx="0.9" cy="11.9" r="0.47" fill="#b5a870"/>
    <circle cx="10.5" cy="15.0" r="0.49" fill="#6b5f34"/>
    <circle cx="20.0" cy="13.8" r="0.59" fill="#d6cb98"/>
    <circle cx="14.0" cy="21.7" r="0.66" fill="#7a6d3e"/>
    <circle cx="20.6" cy="23.8" r="0.65" fill="#c8bb84"/>
    <circle cx="16.8" cy="7.8" r="0.59" fill="#6b5f34"/>
    <circle cx="13.7" cy="17.1" r="0.45" fill="#6b5f34"/>
    <circle cx="6.4" cy="3.0" r="0.57" fill="#b5a870"/>
    <circle cx="23.8" cy="2.1" r="0.71" fill="#d6cb98"/>
    <circle cx="21.5" cy="0.5" r="0.54" fill="#d6cb98"/>
    <circle cx="20.9" cy="1.1" r="0.63" fill="#7a6d3e"/>
    <circle cx="9.1" cy="14.1" r="0.60" fill="#8c7f4a"/>
    <circle cx="12.1" cy="24.0" r="0.49" fill="#7a6d3e"/>
    <circle cx="2.6" cy="12.9" r="0.78" fill="#d6cb98"/>
    <circle cx="7.0" cy="6.3" r="0.66" fill="#8c7f4a"/>
    <circle cx="7.5" cy="23.0" r="0.75" fill="#d6cb98"/>
    <circle cx="9.0" cy="20.9" r="0.52" fill="#6b5f34"/>
    <circle cx="16.3" cy="2.5" r="0.79" fill="#6b5f34"/>
    <circle cx="6.5" cy="15.2" r="0.67" fill="#8c7f4a"/>
    <circle cx="10.5" cy="6.2" r="0.49" fill="#8c7f4a"/>
    <circle cx="0.3" cy="10.0" r="0.61" fill="#7a6d3e"/>
    <circle cx="9.0" cy="14.1" r="0.41" fill="#b5a870"/>
    <circle cx="15.1" cy="11.2" r="0.66" fill="#8c7f4a"/>
    <circle cx="14.6" cy="6.7" r="0.57" fill="#6b5f34"/>
    <circle cx="1.5" cy="16.2" r="0.78" fill="#8c7f4a"/>
    <circle cx="15.1" cy="7.2" r="0.62" fill="#c8bb84"/>
    <circle cx="8.7" cy="7.5" r="0.52" fill="#6b5f34"/>
    <circle cx="6.3" cy="18.9" r="0.40" fill="#7a6d3e"/>
    <circle cx="23.3" cy="16.4" r="0.41" fill="#6b5f34"/>
    <circle cx="5.3" cy="19.3" r="0.46" fill="#c8bb84"/>
    <circle cx="16.3" cy="15.6" r="0.39" fill="#6b5f34"/>
    <circle cx="7.7" cy="8.0" r="0.73" fill="#d6cb98"/>
    <circle cx="19.4" cy="23.1" r="0.39" fill="#b5a870"/>
    <circle cx="15.6" cy="21.2" r="0.55" fill="#c8bb84"/>
    <circle cx="18.9" cy="0.8" r="0.78" fill="#8c7f4a"/>
    <circle cx="19.4" cy="20.1" r="0.43" fill="#8c7f4a"/>
    <circle cx="8.2" cy="19.9" r="0.39" fill="#6b5f34"/>
    <circle cx="8.3" cy="3.1" r="0.48" fill="#8c7f4a"/>
    <circle cx="11.2" cy="15.2" r="0.48" fill="#6b5f34"/>
    <circle cx="9.8" cy="22.1" r="0.42" fill="#7a6d3e"/>
    <circle cx="11.5" cy="20.0" r="0.63" fill="#6b5f34"/>
    <circle cx="10.4" cy="22.8" r="0.77" fill="#c8bb84"/>
    <circle cx="0.8" cy="11.0" r="0.69" fill="#b5a870"/>
    <circle cx="12.5" cy="6.9" r="0.50" fill="#c8bb84"/>
    <circle cx="20.7" cy="20.6" r="0.79" fill="#7a6d3e"/>
    <circle cx="19.4" cy="1.1" r="0.76" fill="#b5a870"/>
    <circle cx="12.3" cy="4.8" r="0.75" fill="#d6cb98"/>
    <circle cx="13.8" cy="0.3" r="0.69" fill="#c8bb84"/>
    <circle cx="12.1" cy="5.7" r="0.36" fill="#6b5f34"/>
    <circle cx="9.9" cy="22.5" r="0.63" fill="#8c7f4a"/>
    <circle cx="3.0" cy="23.3" r="0.59" fill="#7a6d3e"/>
    <circle cx="8.4" cy="4.7" r="0.59" fill="#7a6d3e"/>
    <circle cx="4.1" cy="19.0" r="0.76" fill="#c8bb84"/>
    <circle cx="19.8" cy="0.2" r="0.63" fill="#d6cb98"/>
    <circle cx="1.2" cy="6.5" r="0.47" fill="#6b5f34"/>
    <circle cx="12.5" cy="1.2" r="0.50" fill="#7a6d3e"/>
    <circle cx="20.6" cy="18.6" r="0.37" fill="#7a6d3e"/>
    <circle cx="1.6" cy="23.4" r="0.73" fill="#7a6d3e"/>
    <circle cx="12.4" cy="11.8" r="0.42" fill="#7a6d3e"/>
    <circle cx="8.4" cy="15.5" r="0.61" fill="#8c7f4a"/>
    <circle cx="6.4" cy="23.7" r="0.54" fill="#c8bb84"/>
    <circle cx="13.3" cy="17.2" r="0.52" fill="#7a6d3e"/>
    <circle cx="13.6" cy="1.0" r="0.56" fill="#b5a870"/>
    <circle cx="18.8" cy="9.1" r="0.71" fill="#6b5f34"/>
    <circle cx="21.3" cy="1.3" r="0.63" fill="#b5a870"/>
    <circle cx="7.6" cy="22.8" r="0.54" fill="#7a6d3e"/>
    <circle cx="5.9" cy="12.9" r="0.66" fill="#7a6d3e"/>
    <circle cx="19.3" cy="5.4" r="0.41" fill="#7a6d3e"/>
    <circle cx="22.5" cy="9.0" r="0.75" fill="#8c7f4a"/>
    <circle cx="2.9" cy="16.6" r="0.77" fill="#b5a870"/>
    <circle cx="15.9" cy="21.3" r="0.71" fill="#b5a870"/>
    <circle cx="2.6" cy="7.6" r="0.59" fill="#6b5f34"/>
    <circle cx="17.2" cy="11.4" r="0.46" fill="#d6cb98"/>
    <circle cx="1.1" cy="2.2" r="0.39" fill="#d6cb98"/>
    <circle cx="4.3" cy="0.6" r="0.73" fill="#7a6d3e"/>
    <circle cx="0.6" cy="2.8" r="0.57" fill="#b5a870"/>
    <circle cx="22.9" cy="13.9" r="0.71" fill="#7a6d3e"/>
    <circle cx="23.9" cy="13.5" r="0.59" fill="#c8bb84"/>
    <circle cx="2.6" cy="18.0" r="0.77" fill="#7a6d3e"/>
    <circle cx="13.2" cy="20.9" r="0.43" fill="#7a6d3e"/>
    <circle cx="5.8" cy="4.3" r="0.46" fill="#6b5f34"/>
    <circle cx="16.8" cy="22.6" r="0.46" fill="#6b5f34"/>
    <circle cx="9.5" cy="8.4" r="0.54" fill="#7a6d3e"/>
    <circle cx="9.0" cy="5.6" r="0.77" fill="#b5a870"/>
    <circle cx="23.2" cy="10.0" r="0.61" fill="#6b5f34"/>
    <circle cx="16.2" cy="12.4" r="0.57" fill="#b5a870"/>
    <circle cx="9.6" cy="21.3" r="0.42" fill="#d6cb98"/>
    <circle cx="18.0" cy="22.0" r="0.58" fill="#d6cb98"/>
    <circle cx="14.1" cy="20.6" r="0.41" fill="#c8bb84"/>
    <circle cx="3.5" cy="12.4" r="0.77" fill="#b5a870"/>
    <circle cx="12.9" cy="18.7" r="0.65" fill="#d6cb98"/>
    <circle cx="14.3" cy="14.0" r="0.79" fill="#c8bb84"/>
    <circle cx="7.4" cy="6.4" r="0.71" fill="#c8bb84"/>
    <circle cx="4.1" cy="8.7" r="0.49" fill="#c8bb84"/>
    <circle cx="10.0" cy="16.7" r="0.67" fill="#c8bb84"/>
    <circle cx="11.2" cy="20.0" r="0.72" fill="#6b5f34"/>
    <circle cx="0.7" cy="23.8" r="0.38" fill="#d6cb98"/>
    <circle cx="18.8" cy="21.2" r="0.37" fill="#c8bb84"/>
    <circle cx="21.4" cy="15.6" r="0.70" fill="#7a6d3e"/>
    <circle cx="23.0" cy="20.5" r="0.46" fill="#c8bb84"/>
    </pattern>
    <pattern id="grav" width="24" height="24" patternUnits="userSpaceOnUse">
    <rect width="24" height="24" fill="#626262"/>
    <circle cx="18.6" cy="3.3" r="0.84" fill="#9c968a"/>
    <circle cx="20.6" cy="21.6" r="0.58" fill="#c8b89a"/>
    <circle cx="1.1" cy="4.4" r="0.46" fill="#c8b89a"/>
    <circle cx="2.1" cy="2.2" r="0.98" fill="#8a8884"/>
    <circle cx="0.9" cy="10.9" r="0.91" fill="#8a8884"/>
    <circle cx="0.2" cy="8.0" r="0.71" fill="#e8e2d4"/>
    <circle cx="1.9" cy="15.5" r="0.92" fill="#e8e2d4"/>
    <circle cx="9.4" cy="13.1" r="0.48" fill="#8a8884"/>
    <circle cx="1.8" cy="10.4" r="0.71" fill="#3e3e3e"/>
    <circle cx="21.8" cy="2.3" r="1.06" fill="#8a8884"/>
    <circle cx="16.3" cy="8.8" r="0.72" fill="#9c968a"/>
    <circle cx="16.2" cy="15.7" r="0.96" fill="#8a8884"/>
    <circle cx="2.6" cy="22.7" r="0.64" fill="#3e3e3e"/>
    <circle cx="12.9" cy="2.7" r="0.75" fill="#8a8884"/>
    <circle cx="1.4" cy="7.1" r="0.91" fill="#9c968a"/>
    <circle cx="4.4" cy="15.5" r="0.84" fill="#d8d2c4"/>
    <circle cx="8.9" cy="22.1" r="0.72" fill="#b0aca4"/>
    <circle cx="22.4" cy="3.4" r="0.63" fill="#9c968a"/>
    <circle cx="15.6" cy="10.1" r="0.61" fill="#d8d2c4"/>
    <circle cx="11.0" cy="7.5" r="0.52" fill="#b0aca4"/>
    <circle cx="2.6" cy="4.3" r="0.79" fill="#3e3e3e"/>
    <circle cx="17.8" cy="8.6" r="0.59" fill="#e8e2d4"/>
    <circle cx="1.3" cy="3.3" r="0.74" fill="#8a8884"/>
    <circle cx="5.9" cy="18.5" r="0.65" fill="#8a8884"/>
    <circle cx="22.7" cy="10.8" r="0.97" fill="#b0aca4"/>
    <circle cx="8.5" cy="20.3" r="0.48" fill="#8a8884"/>
    <circle cx="14.2" cy="16.4" r="0.80" fill="#9c968a"/>
    <circle cx="2.7" cy="16.8" r="0.80" fill="#9c968a"/>
    <circle cx="17.8" cy="19.6" r="0.92" fill="#3e3e3e"/>
    <circle cx="14.6" cy="20.6" r="0.96" fill="#3e3e3e"/>
    <circle cx="12.7" cy="13.6" r="0.54" fill="#8a8884"/>
    <circle cx="8.9" cy="7.0" r="0.99" fill="#e8e2d4"/>
    <circle cx="21.4" cy="22.8" r="0.67" fill="#3e3e3e"/>
    <circle cx="21.7" cy="7.4" r="0.75" fill="#3e3e3e"/>
    <circle cx="16.5" cy="7.2" r="1.00" fill="#e8e2d4"/>
    <circle cx="0.7" cy="4.6" r="0.84" fill="#b0aca4"/>
    <circle cx="18.5" cy="15.9" r="0.74" fill="#3e3e3e"/>
    <circle cx="15.0" cy="4.8" r="0.95" fill="#d8d2c4"/>
    <circle cx="0.9" cy="12.0" r="0.85" fill="#e8e2d4"/>
    <circle cx="2.7" cy="6.8" r="0.86" fill="#d8d2c4"/>
    <circle cx="3.3" cy="19.0" r="0.84" fill="#b0aca4"/>
    <circle cx="0.6" cy="14.8" r="0.75" fill="#e8e2d4"/>
    <circle cx="12.9" cy="22.3" r="0.63" fill="#c8b89a"/>
    <circle cx="8.3" cy="16.6" r="0.46" fill="#c8b89a"/>
    <circle cx="14.4" cy="22.2" r="0.90" fill="#9c968a"/>
    <circle cx="23.9" cy="23.9" r="0.54" fill="#b0aca4"/>
    <circle cx="20.7" cy="10.5" r="0.93" fill="#e8e2d4"/>
    <circle cx="7.6" cy="18.9" r="0.69" fill="#c8b89a"/>
    <circle cx="4.8" cy="3.9" r="0.75" fill="#9c968a"/>
    <circle cx="1.6" cy="20.4" r="0.55" fill="#e8e2d4"/>
    <circle cx="7.3" cy="11.1" r="0.93" fill="#e8e2d4"/>
    <circle cx="10.5" cy="10.9" r="0.43" fill="#8a8884"/>
    <circle cx="8.8" cy="8.9" r="0.77" fill="#3e3e3e"/>
    <circle cx="9.6" cy="23.3" r="0.96" fill="#8a8884"/>
    <circle cx="18.8" cy="3.4" r="0.72" fill="#d8d2c4"/>
    <circle cx="3.8" cy="0.5" r="0.81" fill="#3e3e3e"/>
    <circle cx="4.0" cy="0.7" r="0.48" fill="#d8d2c4"/>
    <circle cx="10.6" cy="4.4" r="0.99" fill="#e8e2d4"/>
    <circle cx="10.8" cy="9.8" r="0.89" fill="#b0aca4"/>
    <circle cx="5.7" cy="0.9" r="0.75" fill="#d8d2c4"/>
    <circle cx="5.8" cy="9.3" r="0.53" fill="#8a8884"/>
    <circle cx="14.9" cy="8.3" r="0.49" fill="#b0aca4"/>
    <circle cx="19.4" cy="7.0" r="1.09" fill="#e8e2d4"/>
    <circle cx="18.9" cy="23.1" r="0.74" fill="#3e3e3e"/>
    <circle cx="6.4" cy="19.6" r="0.84" fill="#8a8884"/>
    <circle cx="7.6" cy="1.4" r="0.70" fill="#b0aca4"/>
    <circle cx="14.2" cy="0.1" r="0.42" fill="#b0aca4"/>
    <circle cx="0.5" cy="12.1" r="0.74" fill="#d8d2c4"/>
    <circle cx="15.7" cy="21.6" r="0.54" fill="#c8b89a"/>
    <circle cx="11.4" cy="19.3" r="1.04" fill="#9c968a"/>
    <circle cx="0.8" cy="7.3" r="0.82" fill="#e8e2d4"/>
    <circle cx="2.1" cy="7.0" r="0.99" fill="#b0aca4"/>
    <circle cx="12.2" cy="13.1" r="0.78" fill="#c8b89a"/>
    <circle cx="22.3" cy="4.2" r="0.92" fill="#9c968a"/>
    <circle cx="9.3" cy="22.5" r="0.65" fill="#d8d2c4"/>
    <circle cx="8.7" cy="10.0" r="0.56" fill="#c8b89a"/>
    <circle cx="16.9" cy="8.3" r="0.97" fill="#3e3e3e"/>
    <circle cx="17.3" cy="14.5" r="0.90" fill="#e8e2d4"/>
    <circle cx="22.8" cy="1.0" r="0.52" fill="#c8b89a"/>
    <circle cx="0.6" cy="11.2" r="0.93" fill="#9c968a"/>
    <circle cx="15.9" cy="7.7" r="0.82" fill="#c8b89a"/>
    <circle cx="15.4" cy="21.1" r="1.01" fill="#e8e2d4"/>
    <circle cx="11.2" cy="20.9" r="0.85" fill="#8a8884"/>
    <circle cx="0.0" cy="4.7" r="0.95" fill="#b0aca4"/>
    <circle cx="8.1" cy="7.5" r="0.72" fill="#c8b89a"/>
    <circle cx="15.6" cy="5.8" r="0.43" fill="#d8d2c4"/>
    <circle cx="22.5" cy="3.4" r="1.09" fill="#b0aca4"/>
    <circle cx="5.5" cy="23.2" r="0.55" fill="#3e3e3e"/>
    <circle cx="12.4" cy="12.1" r="1.04" fill="#8a8884"/>
    <circle cx="18.9" cy="12.8" r="0.53" fill="#d8d2c4"/>
    </pattern>
    <pattern id="stone" width="40" height="30" patternUnits="userSpaceOnUse">
    <rect width="40" height="30" fill="#6e4a2a"/>
    <rect x="-4.5" y="0.5" width="5.3" height="5" fill="#b88250"/>
    <rect x="1.8" y="0.5" width="5.8" height="5" fill="#c89262"/>
    <rect x="8.6" y="0.5" width="11.0" height="5" fill="#c89262"/>
    <rect x="20.6" y="0.5" width="6.4" height="5" fill="#d9ab7c"/>
    <rect x="28.0" y="0.5" width="5.6" height="5" fill="#a86c3c"/>
    <rect x="34.6" y="0.5" width="7.8" height="5" fill="#b88250"/>
    <rect x="-6.1" y="6.5" width="9.3" height="5" fill="#dcb48a"/>
    <rect x="4.2" y="6.5" width="8.4" height="5" fill="#dcb48a"/>
    <rect x="13.6" y="6.5" width="11.1" height="5" fill="#d9ab7c"/>
    <rect x="25.7" y="6.5" width="7.8" height="5" fill="#dcb48a"/>
    <rect x="34.5" y="6.5" width="8.1" height="5" fill="#c89262"/>
    <rect x="-1.8" y="12.5" width="11.6" height="5" fill="#a86c3c"/>
    <rect x="10.8" y="12.5" width="10.7" height="5" fill="#b47a48"/>
    <rect x="22.5" y="12.5" width="5.8" height="5" fill="#c89262"/>
    <rect x="29.3" y="12.5" width="8.2" height="5" fill="#dcb48a"/>
    <rect x="38.6" y="12.5" width="9.5" height="5" fill="#d9ab7c"/>
    <rect x="-2.3" y="18.5" width="8.4" height="5" fill="#c89262"/>
    <rect x="7.1" y="18.5" width="11.5" height="5" fill="#dcb48a"/>
    <rect x="19.6" y="18.5" width="10.1" height="5" fill="#a86c3c"/>
    <rect x="30.7" y="18.5" width="10.5" height="5" fill="#c89262"/>
    <rect x="-4.3" y="24.5" width="6.5" height="5" fill="#d9ab7c"/>
    <rect x="3.2" y="24.5" width="10.9" height="5" fill="#c89262"/>
    <rect x="15.0" y="24.5" width="7.3" height="5" fill="#a86c3c"/>
    <rect x="23.4" y="24.5" width="8.1" height="5" fill="#d9ab7c"/>
    <rect x="32.4" y="24.5" width="6.5" height="5" fill="#b47a48"/>
    <rect x="40.0" y="24.5" width="10.2" height="5" fill="#b47a48"/>
    </pattern>
  </defs>
  <rect x="170.8" y="1476.7" width="75.2" height="145" fill="url(#soil)"/>
  <rect x="170.8" y="1476" width="75.2" height="6.5" fill="#93b05c"/>
  <path d="M170.8 1484.5 H207 Q213 1484.5 213 1490.5 V1615 Q213 1621 207 1621 H170.8 Z" fill="url(#grav)" stroke="#555" stroke-width="0.6"/>
  <path d="M170.8 1603 A18 18 0 0 1 188.8 1621 H170.8 Z" fill="#e9e2da" stroke="#555" stroke-width="0.5"/>
  <polygon points="179,1610 183,1612 183,1617 179,1619 175,1617 175,1612" fill="none" stroke="#333" stroke-width="0.6"/>
  <polygon points="146,1478 170.8,1478 170.8,1621 133.2,1621" fill="url(#stone)" stroke="#222" stroke-width="0.9"/>
  <rect x="146.3" y="1478.3" width="24.3" height="5.5" fill="#d9a97a" stroke="#222" stroke-width="0.6"/>
  <rect x="88" y="1615.5" width="46" height="5.5" fill="#8fae58"/>
  <rect x="88.3" y="1621" width="157.5" height="25.8" fill="url(#soil)" stroke="#111" stroke-width="0.9"/>
  <g fill="#3a2a1a"><circle cx="138" cy="1625" r="0.7"/><circle cx="144" cy="1625" r="0.7"/><circle cx="150" cy="1625" r="0.7"/><circle cx="156" cy="1625" r="0.7"/><circle cx="162" cy="1625" r="0.7"/></g>
  <g font-family="Liberation Sans" font-weight="bold">
    <text x="192" y="1474.5" font-size="7" fill="#1b237a">Ground</text>
    <text x="99" y="1614" font-size="7" fill="#1b237a">Ground</text>
    <text x="108" y="1548" font-size="10.5" fill="#2530b0">Batter</text>
    <text x="190" y="1637" font-size="7" fill="#2a2510">Landfill</text>
  </g>
  <g font-family="Liberation Sans" fill="#f4f0e8" font-size="6.8" font-weight="bold">
    <text x="174" y="1536">Drainage</text>
    <text x="218" y="1558">Landfill</text>
    <text x="126" y="1635">Footing Rods</text>
    <text x="137" y="1602" font-size="5.5">Weep Hole</text>
  </g>
  <g font-family="Liberation Sans" fill="#fbf8f2" font-size="9.5" font-weight="bold" text-anchor="middle">
    <text x="153" y="1508">S</text><text x="153" y="1519">t</text><text x="154" y="1530">o</text><text x="154" y="1541">n</text><text x="155" y="1552">e</text>
    <text x="155" y="1567">W</text><text x="156" y="1578">a</text><text x="156" y="1589">l</text><text x="156" y="1596">l</text>
  </g>
  <g font-family="Liberation Sans" fill="#f5d81c" font-size="7.2" font-weight="bold" text-anchor="middle">
    <text x="208" y="1504">F</text><text x="208" y="1511">i</text><text x="208" y="1517">l</text><text x="208" y="1523">t</text><text x="208" y="1530">e</text><text x="208" y="1537">r</text>
    <text x="209" y="1546">F</text><text x="209" y="1553">a</text><text x="209" y="1560">b</text><text x="209" y="1567">r</text><text x="209" y="1574">i</text><text x="209" y="1581">c</text>
  </g>
</svg>

<div class="btn" style="top:1464px"></div>
<div class="btn" style="top:1508.5px;height:36.5px"></div>
<div class="btn" style="top:1550.8px"></div>
<div class="btn" style="top:1594.5px"></div>

<!-- underline 2 -->
<div class="a" style="left:218px;top:1747.5px;width:210px;height:2px;background:linear-gradient(90deg,rgba(4,39,99,0),#042763 50%,rgba(4,39,99,0))"></div>

<!-- cards -->
<div class="card dk" style="left:26px;top:1773.2px;width:198.4px;border-top-left-radius:40px;height:304.7px"></div>
<div class="card lt" style="left:230.8px;top:1773.2px;width:198.7px;border-top-left-radius:40px;height:304.7px"></div>
<div class="card dk" style="left:436px;top:1773.2px;width:198px;border-top-left-radius:40px;height:304.7px"></div>
<div class="card lt" style="left:26px;top:2085.8px;width:198.4px;height:304.4px;border-bottom-right-radius:40px"></div>
<div class="card dk" style="left:230.8px;top:2085.8px;width:198.7px;height:304.4px;border-bottom-right-radius:40px"></div>
<div class="card lt" style="left:436px;top:2085.8px;width:198px;height:304.4px;border-bottom-right-radius:40px"></div>

<!-- footer -->
<svg class="a" style="left:0;top:2400px" width="660" height="160" viewBox="0 2400 660 160">
  <ellipse cx="330" cy="2509" rx="350" ry="85" fill="#012b5d"/>
  <rect x="0" y="2509" width="660" height="60" fill="#012b5d"/>
</svg>
<svg class="a" style="left:255px;top:2445px" width="150" height="65" viewBox="255 2445 150 65">
  <g fill="#fff">
    <path d="M283 2453 C272 2452 264 2462 264.5 2474 C265 2483 270 2488 276 2489 L277 2500 C277.5 2503 280 2503 280.5 2500 L280 2489 C290 2487 297 2477 296.5 2466 C296 2458 291 2453.5 283 2453 Z M282 2458 C288 2458 291 2463 290.5 2470 C290 2478 285 2484 280 2485 L279.5 2476 C279.3 2473 276.8 2473 276.8 2476 L277 2485 C272.5 2483 270.5 2478 271 2472 C271.5 2464 276 2458 282 2458 Z"/>
    <text x="297" y="2489.5" font-family="Liberation Serif" font-style="italic" font-weight="bold" font-size="37" textLength="25" lengthAdjust="spacingAndGlyphs">e</text>
    <text x="320" y="2492.7" font-family="Liberation Serif" font-weight="bold" font-size="38" transform="scale(1,1)" textLength="21.5" lengthAdjust="spacingAndGlyphs">B</text>
    <polygon points="343,2492.7 343,2462 349,2458 349,2455 357,2455 357,2459 362,2462 362,2466 364,2466 364,2492.7"/>
    <text x="363.6" y="2492.7" font-family="Liberation Serif" font-weight="bold" font-size="38" textLength="34" lengthAdjust="spacingAndGlyphs">M</text>
    <text x="314.5" y="2504" font-family="Liberation Sans" font-weight="bold" font-size="7.6" textLength="82.5" lengthAdjust="spacingAndGlyphs">Your BIM Handyman</text>
  </g>
  <g fill="#012b5d">
    <rect x="346" y="2464" width="1.2" height="29"/><rect x="350" y="2462" width="1.2" height="31"/><rect x="354" y="2462" width="1.2" height="31"/><rect x="358" y="2464" width="1.2" height="29"/>
  </g>
</svg>


<div class="t" style="left:186.50px;top:57.90px;font-size:25.55px;font-weight:normal;color:#fff;transform:scaleX(1.1535);-webkit-text-stroke:0.5px #fff;">A Complete Guide to</div>
<div class="t" style="left:77.99px;top:96.40px;font-size:33.64px;font-weight:bold;color:#4fdcf5;transform:scaleX(1.1100);-webkit-text-stroke:0.45px #4fdcf5;">Construction Detail Types &amp;</div>
<div class="t" style="left:140.90px;top:134.80px;font-size:33.93px;font-weight:bold;color:#4fdcf5;transform:scaleX(1.1285);-webkit-text-stroke:0.45px #4fdcf5;">Technical Standards</div>
<div class="t" style="left:109.83px;top:280.00px;font-size:25.93px;font-weight:bold;color:#042763;transform:scaleX(1.0694);-webkit-text-stroke:0.45px #042763;">1. Types of Construction Details</div>
<div class="t" style="left:144.40px;top:1676.80px;font-size:25.5px;font-weight:bold;color:#042763;transform:scaleX(1.0939);-webkit-text-stroke:0.45px #042763;">2. Technical Guidelines for</div>
<div class="t" style="left:90.29px;top:1706.60px;font-size:25.93px;font-weight:bold;color:#042763;transform:scaleX(1.1114);-webkit-text-stroke:0.45px #042763;">High-Quality Construction Details</div>
<div class="t" style="left:208.60px;top:349.70px;font-size:20.21px;font-weight:bold;color:#fff;transform:scaleX(1.0757);-webkit-text-stroke:0.45px #fff;">A. Architectural Details</div>
<div class="t" style="left:224.83px;top:597.50px;font-size:20.07px;font-weight:bold;color:#fff;transform:scaleX(1.0719);-webkit-text-stroke:0.45px #fff;">B. Structural Details</div>
<div class="t" style="left:257.30px;top:866.50px;font-size:20.21px;font-weight:bold;color:#fff;transform:scaleX(1.0268);-webkit-text-stroke:0.45px #fff;">C. MEP Details</div>
<div class="t" style="left:240.40px;top:1094.90px;font-size:19.5px;font-weight:bold;color:#fff;transform:scaleX(1.1020);-webkit-text-stroke:0.45px #fff;">D. Interior Details</div>
<div class="t" style="left:224.44px;top:1419.30px;font-size:19.79px;font-weight:bold;color:#fff;transform:scaleX(1.0580);-webkit-text-stroke:0.45px #fff;">E. Site &amp; Civil Details</div>
<div class="t" style="left:97.60px;top:509.70px;font-size:14.35px;font-weight:normal;color:#fff;transform:scaleX(1.0858);-webkit-text-stroke:0.5px #fff;">Wall</div>
<div class="t" style="left:83.00px;top:523.50px;font-size:14.35px;font-weight:normal;color:#fff;transform:scaleX(1.0776);-webkit-text-stroke:0.5px #fff;">Sections</div>
<div class="t" style="left:206.77px;top:511.60px;font-size:14.35px;font-weight:normal;color:#fff;transform:scaleX(1.1256);-webkit-text-stroke:0.5px #fff;">Door/Window</div>
<div class="t" style="left:219.70px;top:524.20px;font-size:14.35px;font-weight:normal;color:#fff;transform:scaleX(1.1317);-webkit-text-stroke:0.5px #fff;">schedules</div>
<div class="t" style="left:368.61px;top:511.00px;font-size:14.35px;font-weight:normal;color:#fff;transform:scaleX(1.0899);-webkit-text-stroke:0.5px #fff;">Finishing</div>
<div class="t" style="left:372.92px;top:524.60px;font-size:14.35px;font-weight:normal;color:#fff;transform:scaleX(1.0802);-webkit-text-stroke:0.5px #fff;">Layouts</div>
<div class="t" style="left:490.60px;top:504.20px;font-size:14.35px;font-weight:normal;color:#fff;transform:scaleX(1.1145);-webkit-text-stroke:0.5px #fff;">Waterproofing &amp;</div>
<div class="t" style="left:511.80px;top:517.00px;font-size:14.35px;font-weight:normal;color:#fff;transform:scaleX(1.1200);-webkit-text-stroke:0.5px #fff;">insulation</div>
<div class="t" style="left:524.60px;top:530.50px;font-size:14.35px;font-weight:normal;color:#fff;transform:scaleX(1.1480);-webkit-text-stroke:0.5px #fff;">details</div>
<div class="t" style="left:69.93px;top:673.90px;font-size:14.93px;font-weight:normal;color:#fff;transform:scaleX(1.0686);-webkit-text-stroke:0.2px #fff;">Foundation</div>
<div class="t" style="left:90.45px;top:686.50px;font-size:14.93px;font-weight:normal;color:#fff;transform:scaleX(1.0456);-webkit-text-stroke:0.2px #fff;">Plans</div>
<div class="t" style="left:215.90px;top:778.60px;font-size:14.93px;font-weight:normal;color:#fff;transform:scaleX(1.1155);-webkit-text-stroke:0.2px #fff;">Slab/beam</div>
<div class="t" style="left:205.90px;top:791.90px;font-size:14.93px;font-weight:normal;color:#fff;transform:scaleX(1.0719);-webkit-text-stroke:0.2px #fff;">reinforcement</div>
<div class="t" style="left:343.20px;top:671.00px;font-size:14.93px;font-weight:normal;color:#fff;transform:scaleX(1.0560);-webkit-text-stroke:0.2px #fff;">Steel connection</div>
<div class="t" style="left:378.40px;top:684.40px;font-size:14.93px;font-weight:normal;color:#fff;transform:scaleX(1.0780);-webkit-text-stroke:0.2px #fff;">details</div>
<div class="t" style="left:500.74px;top:778.20px;font-size:14.93px;font-weight:normal;color:#fff;transform:scaleX(1.0591);-webkit-text-stroke:0.2px #fff;">Load transfer</div>
<div class="t" style="left:513.90px;top:791.80px;font-size:14.93px;font-weight:normal;color:#fff;transform:scaleX(1.1148);-webkit-text-stroke:0.2px #fff;">diagrams</div>
<div class="t" style="left:50.45px;top:932.90px;font-size:18.62px;font-weight:normal;color:#161616;transform:scaleX(1.0460);-webkit-text-stroke:0.32px #161616;">HVAC layouts &amp; Ducting</div>
<div class="t" style="left:50.42px;top:963.20px;font-size:18.62px;font-weight:normal;color:#161616;transform:scaleX(1.0803);-webkit-text-stroke:0.32px #161616;">Electrical wiring diagrams</div>
<div class="t" style="left:50.52px;top:993.50px;font-size:18.62px;font-weight:normal;color:#161616;transform:scaleX(1.0840);-webkit-text-stroke:0.32px #161616;">Plumbing and Drainage schematics</div>
<div class="t" style="left:50.55px;top:1023.50px;font-size:18.62px;font-weight:normal;color:#161616;transform:scaleX(1.0539);-webkit-text-stroke:0.32px #161616;">Fire Safety system layouts</div>
<div class="t" style="left:215.50px;top:1151.40px;font-size:14.48px;font-weight:normal;color:#161616;transform:scaleX(1.1917);-webkit-text-stroke:0.32px #161616;">Cabinetry and</div>
<div class="t" style="left:199.72px;top:1167.40px;font-size:14.48px;font-weight:normal;color:#161616;transform:scaleX(1.1833);-webkit-text-stroke:0.32px #161616;">Furniture detailing</div>
<div class="t" style="left:484.41px;top:1151.70px;font-size:14.48px;font-weight:normal;color:#161616;transform:scaleX(1.1921);-webkit-text-stroke:0.32px #161616;">Material</div>
<div class="t" style="left:463.80px;top:1168.00px;font-size:14.48px;font-weight:normal;color:#161616;transform:scaleX(1.1624);-webkit-text-stroke:0.32px #161616;">Specifications</div>
<div class="t" style="left:72.10px;top:1358.50px;font-size:14.48px;font-weight:normal;color:#161616;transform:scaleX(1.1816);-webkit-text-stroke:0.32px #161616;">Joinery drawings</div>
<div class="t" style="left:347.56px;top:1350.20px;font-size:14.48px;font-weight:normal;color:#161616;transform:scaleX(1.1415);-webkit-text-stroke:0.32px #161616;">False ceiling</div>
<div class="t" style="left:366.40px;top:1366.40px;font-size:14.48px;font-weight:normal;color:#161616;transform:scaleX(1.2103);-webkit-text-stroke:0.32px #161616;">layouts</div>
<div class="t" style="left:418.40px;top:1475.80px;font-size:16.06px;font-weight:normal;color:#fff;transform:scaleX(1.1653);">Grading plans</div>
<div class="t" style="left:430.50px;top:1517.90px;font-size:16.06px;font-weight:normal;color:#fff;transform:scaleX(1.1302);">Site utilities</div>
<div class="t" style="left:340.62px;top:1561.00px;font-size:16.06px;font-weight:normal;color:#fff;transform:scaleX(1.1791);">Roadwork and pavement details</div>
<div class="t" style="left:333.32px;top:1606.20px;font-size:16.06px;font-weight:normal;color:#fff;transform:scaleX(1.1828);">Retaining wall and drainage plans</div>
<div class="t" style="left:201.55px;top:2513.80px;font-size:22.5px;font-weight:normal;color:#50d8f6;transform:scaleX(1.0451);-webkit-text-stroke:0.5px #50d8f6;">www.qebimservices.com</div>
<div class="t" style="left:45.59px;top:1799.60px;font-size:20.21px;font-weight:bold;color:#2ee0d5;transform:scaleX(1.0087);-webkit-text-stroke:0.45px #2ee0d5;">1. Follow</div>
<div class="t" style="left:46.60px;top:1821.00px;font-size:20.21px;font-weight:bold;color:#2ee0d5;transform:scaleX(1.1481);-webkit-text-stroke:0.45px #2ee0d5;">Standardized</div>
<div class="t" style="left:45.51px;top:1842.40px;font-size:20.21px;font-weight:bold;color:#2ee0d5;transform:scaleX(1.0943);-webkit-text-stroke:0.45px #2ee0d5;">Drawing</div>
<div class="t" style="left:46.60px;top:1863.80px;font-size:20.21px;font-weight:bold;color:#2ee0d5;transform:scaleX(1.1260);-webkit-text-stroke:0.45px #2ee0d5;">Conventions</div>
<div class="t" style="left:45.75px;top:1901.80px;font-size:14.6px;font-weight:normal;color:#fff;transform:scaleX(1.1478);-webkit-text-stroke:0.2px #fff;">Use uniform symbols</div>
<div class="t" style="left:46.90px;top:1917.90px;font-size:14.6px;font-weight:normal;color:#fff;transform:scaleX(1.1594);-webkit-text-stroke:0.2px #fff;">and line weights</div>
<div class="t" style="left:45.74px;top:1942.70px;font-size:14.6px;font-weight:normal;color:#fff;transform:scaleX(1.1601);-webkit-text-stroke:0.2px #fff;">Maintain consistent</div>
<div class="t" style="left:46.90px;top:1958.80px;font-size:14.6px;font-weight:normal;color:#fff;transform:scaleX(1.1530);-webkit-text-stroke:0.2px #fff;">layering and scales</div>
<div class="t" style="left:45.75px;top:1984.50px;font-size:14.6px;font-weight:normal;color:#fff;transform:scaleX(1.1513);-webkit-text-stroke:0.2px #fff;">Ensure compliance</div>
<div class="t" style="left:48.07px;top:2001.00px;font-size:14.6px;font-weight:normal;color:#fff;transform:scaleX(1.1652);-webkit-text-stroke:0.2px #fff;">with international/</div>
<div class="t" style="left:46.90px;top:2017.20px;font-size:14.6px;font-weight:normal;color:#fff;transform:scaleX(1.1758);-webkit-text-stroke:0.2px #fff;">local codes</div>
<div class="t" style="left:261.80px;top:1796.60px;font-size:20.21px;font-weight:bold;color:#2ee0d5;transform:scaleX(1.1453);-webkit-text-stroke:0.45px #2ee0d5;">2. Maintain</div>
<div class="t" style="left:260.65px;top:1817.80px;font-size:20.21px;font-weight:bold;color:#2ee0d5;transform:scaleX(1.1467);-webkit-text-stroke:0.45px #2ee0d5;">Dimensional</div>
<div class="t" style="left:261.80px;top:1839.00px;font-size:20.21px;font-weight:bold;color:#2ee0d5;transform:scaleX(1.1170);-webkit-text-stroke:0.45px #2ee0d5;">Accuracy</div>
<div class="t" style="left:260.67px;top:1875.20px;font-size:14.6px;font-weight:normal;color:#fff;transform:scaleX(1.1256);-webkit-text-stroke:0.2px #fff;">Provide clear</div>
<div class="t" style="left:261.80px;top:1891.50px;font-size:14.6px;font-weight:normal;color:#fff;transform:scaleX(1.1574);-webkit-text-stroke:0.2px #fff;">dimensions for</div>
<div class="t" style="left:261.80px;top:1908.00px;font-size:14.6px;font-weight:normal;color:#fff;transform:scaleX(1.1985);-webkit-text-stroke:0.2px #fff;">fabrication and</div>
<div class="t" style="left:261.80px;top:1924.20px;font-size:14.6px;font-weight:normal;color:#fff;transform:scaleX(1.1795);-webkit-text-stroke:0.2px #fff;">installation</div>
<div class="t" style="left:261.80px;top:1946.50px;font-size:14.6px;font-weight:normal;color:#fff;transform:scaleX(1.1750);-webkit-text-stroke:0.2px #fff;">Avoid duplication</div>
<div class="t" style="left:261.80px;top:1963.00px;font-size:14.6px;font-weight:normal;color:#fff;transform:scaleX(1.1658);-webkit-text-stroke:0.2px #fff;">or conflicting</div>
<div class="t" style="left:261.80px;top:1979.20px;font-size:14.6px;font-weight:normal;color:#fff;transform:scaleX(1.1744);-webkit-text-stroke:0.2px #fff;">measurements</div>
<div class="t" style="left:260.67px;top:2002.00px;font-size:14.6px;font-weight:normal;color:#fff;transform:scaleX(1.1296);-webkit-text-stroke:0.2px #fff;">Follow reference</div>
<div class="t" style="left:261.80px;top:2018.20px;font-size:14.6px;font-weight:normal;color:#fff;transform:scaleX(1.1658);-webkit-text-stroke:0.2px #fff;">grids for easy</div>
<div class="t" style="left:261.80px;top:2034.40px;font-size:14.6px;font-weight:normal;color:#fff;transform:scaleX(1.1861);-webkit-text-stroke:0.2px #fff;">interpretation</div>
<div class="t" style="left:456.70px;top:1796.10px;font-size:20.21px;font-weight:bold;color:#2ee0d5;transform:scaleX(1.0589);-webkit-text-stroke:0.45px #2ee0d5;">3. Ensure</div>
<div class="t" style="left:455.55px;top:1817.10px;font-size:20.21px;font-weight:bold;color:#2ee0d5;transform:scaleX(1.1496);-webkit-text-stroke:0.45px #2ee0d5;">Material &amp;</div>
<div class="t" style="left:456.70px;top:1838.10px;font-size:20.21px;font-weight:bold;color:#2ee0d5;transform:scaleX(1.1244);-webkit-text-stroke:0.45px #2ee0d5;">Specification</div>
<div class="t" style="left:456.70px;top:1859.10px;font-size:20.21px;font-weight:bold;color:#2ee0d5;transform:scaleX(1.1195);-webkit-text-stroke:0.45px #2ee0d5;">Clarity</div>
<div class="t" style="left:455.54px;top:1890.40px;font-size:14.6px;font-weight:normal;color:#fff;transform:scaleX(1.1636);-webkit-text-stroke:0.2px #fff;">Label materials and</div>
<div class="t" style="left:456.70px;top:1907.00px;font-size:14.6px;font-weight:normal;color:#fff;transform:scaleX(1.1657);-webkit-text-stroke:0.2px #fff;">finishes precisely</div>
<div class="t" style="left:455.51px;top:1929.80px;font-size:14.6px;font-weight:normal;color:#fff;transform:scaleX(1.1896);-webkit-text-stroke:0.2px #fff;">Include product data,</div>
<div class="t" style="left:456.70px;top:1945.90px;font-size:14.6px;font-weight:normal;color:#fff;transform:scaleX(1.1657);-webkit-text-stroke:0.2px #fff;">thicknesses and</div>
<div class="t" style="left:456.70px;top:1962.50px;font-size:14.6px;font-weight:normal;color:#fff;transform:scaleX(1.1657);-webkit-text-stroke:0.2px #fff;">performance</div>
<div class="t" style="left:456.70px;top:1978.60px;font-size:14.6px;font-weight:normal;color:#fff;transform:scaleX(1.1657);-webkit-text-stroke:0.2px #fff;">requirements</div>
<div class="t" style="left:456.70px;top:2003.50px;font-size:14.6px;font-weight:normal;color:#fff;transform:scaleX(1.1547);-webkit-text-stroke:0.2px #fff;">Add section cuts</div>
<div class="t" style="left:456.70px;top:2020.10px;font-size:14.6px;font-weight:normal;color:#fff;transform:scaleX(1.1549);-webkit-text-stroke:0.2px #fff;">and legends where</div>
<div class="t" style="left:456.70px;top:2036.20px;font-size:14.6px;font-weight:normal;color:#fff;transform:scaleX(1.1657);-webkit-text-stroke:0.2px #fff;">necessary</div>
<div class="t" style="left:40.00px;top:2112.00px;font-size:20.21px;font-weight:bold;color:#2ee0d5;transform:scaleX(1.0991);-webkit-text-stroke:0.45px #2ee0d5;">4. Provide</div>
<div class="t" style="left:40.00px;top:2133.00px;font-size:20.21px;font-weight:bold;color:#2ee0d5;transform:scaleX(1.1344);-webkit-text-stroke:0.45px #2ee0d5;">Coordination</div>
<div class="t" style="left:38.87px;top:2154.00px;font-size:20.21px;font-weight:bold;color:#2ee0d5;transform:scaleX(1.1312);-webkit-text-stroke:0.45px #2ee0d5;">Between</div>
<div class="t" style="left:38.90px;top:2175.00px;font-size:20.21px;font-weight:bold;color:#2ee0d5;transform:scaleX(1.0991);-webkit-text-stroke:0.45px #2ee0d5;">Disciplines</div>
<div class="t" style="left:40.00px;top:2208.00px;font-size:14.6px;font-weight:normal;color:#fff;transform:scaleX(1.1443);-webkit-text-stroke:0.2px #fff;">Cross-check</div>
<div class="t" style="left:40.00px;top:2224.40px;font-size:14.6px;font-weight:normal;color:#fff;transform:scaleX(1.1834);-webkit-text-stroke:0.2px #fff;">architectural, struc-</div>
<div class="t" style="left:40.00px;top:2241.00px;font-size:14.6px;font-weight:normal;color:#fff;transform:scaleX(1.1188);-webkit-text-stroke:0.2px #fff;">tural and MEP models</div>
<div class="t" style="left:38.82px;top:2265.90px;font-size:14.6px;font-weight:normal;color:#fff;transform:scaleX(1.1817);-webkit-text-stroke:0.2px #fff;">Include clash-free</div>
<div class="t" style="left:40.00px;top:2282.00px;font-size:14.6px;font-weight:normal;color:#fff;transform:scaleX(1.1883);-webkit-text-stroke:0.2px #fff;">and updated drawings</div>
<div class="t" style="left:38.85px;top:2306.80px;font-size:14.6px;font-weight:normal;color:#fff;transform:scaleX(1.1514);-webkit-text-stroke:0.2px #fff;">Maintain revision</div>
<div class="t" style="left:40.00px;top:2322.80px;font-size:14.6px;font-weight:normal;color:#fff;transform:scaleX(1.1613);-webkit-text-stroke:0.2px #fff;">logs and version</div>
<div class="t" style="left:40.00px;top:2339.50px;font-size:14.6px;font-weight:normal;color:#fff;transform:scaleX(1.1613);-webkit-text-stroke:0.2px #fff;">control</div>
<div class="t" style="left:245.00px;top:2111.20px;font-size:20.21px;font-weight:bold;color:#2ee0d5;transform:scaleX(1.1151);-webkit-text-stroke:0.45px #2ee0d5;">5. Add</div>
<div class="t" style="left:243.89px;top:2132.40px;font-size:20.21px;font-weight:bold;color:#2ee0d5;transform:scaleX(1.1136);-webkit-text-stroke:0.45px #2ee0d5;">Buildability</div>
<div class="t" style="left:243.90px;top:2153.60px;font-size:20.21px;font-weight:bold;color:#2ee0d5;transform:scaleX(1.1046);-webkit-text-stroke:0.45px #2ee0d5;">Notes</div>
<div class="t" style="left:243.83px;top:2188.60px;font-size:14.6px;font-weight:normal;color:#fff;transform:scaleX(1.1654);-webkit-text-stroke:0.2px #fff;">Highlight special</div>
<div class="t" style="left:245.00px;top:2204.70px;font-size:14.6px;font-weight:normal;color:#fff;transform:scaleX(1.1664);-webkit-text-stroke:0.2px #fff;">installation instructions</div>
<div class="t" style="left:243.86px;top:2228.50px;font-size:14.6px;font-weight:normal;color:#fff;transform:scaleX(1.1394);-webkit-text-stroke:0.2px #fff;">Provide tolerances,</div>
<div class="t" style="left:245.00px;top:2244.80px;font-size:14.6px;font-weight:normal;color:#fff;transform:scaleX(1.1670);-webkit-text-stroke:0.2px #fff;">sequencing and</div>
<div class="t" style="left:245.00px;top:2261.50px;font-size:14.6px;font-weight:normal;color:#fff;transform:scaleX(1.1659);-webkit-text-stroke:0.2px #fff;">connection guidelines</div>
<div class="t" style="left:243.82px;top:2287.20px;font-size:14.6px;font-weight:normal;color:#fff;transform:scaleX(1.1779);-webkit-text-stroke:0.2px #fff;">Mention site-specific</div>
<div class="t" style="left:245.00px;top:2303.30px;font-size:14.6px;font-weight:normal;color:#fff;transform:scaleX(1.1670);-webkit-text-stroke:0.2px #fff;">considerations</div>
<div class="t" style="left:245.00px;top:2319.70px;font-size:14.6px;font-weight:normal;color:#fff;transform:scaleX(1.1670);-webkit-text-stroke:0.2px #fff;">(weather, load,</div>
<div class="t" style="left:245.00px;top:2335.70px;font-size:14.6px;font-weight:normal;color:#fff;transform:scaleX(1.1868);-webkit-text-stroke:0.2px #fff;">constraints)</div>
<div class="t" style="left:456.70px;top:2114.30px;font-size:20.21px;font-weight:bold;color:#2ee0d5;transform:scaleX(1.1104);-webkit-text-stroke:0.45px #2ee0d5;">6. Enhance</div>
<div class="t" style="left:455.56px;top:2135.20px;font-size:20.21px;font-weight:bold;color:#2ee0d5;transform:scaleX(1.1361);-webkit-text-stroke:0.45px #2ee0d5;">Readability</div>
<div class="t" style="left:456.18px;top:2175.00px;font-size:14.6px;font-weight:normal;color:#fff;transform:scaleX(1.1221);-webkit-text-stroke:0.2px #fff;">Use clear</div>
<div class="t" style="left:457.30px;top:2191.00px;font-size:14.6px;font-weight:normal;color:#fff;transform:scaleX(1.1801);-webkit-text-stroke:0.2px #fff;">annotations</div>
<div class="t" style="left:456.17px;top:2214.70px;font-size:14.6px;font-weight:normal;color:#fff;transform:scaleX(1.1338);-webkit-text-stroke:0.2px #fff;">Keep layouts</div>
<div class="t" style="left:457.30px;top:2230.40px;font-size:14.6px;font-weight:normal;color:#fff;transform:scaleX(1.1597);-webkit-text-stroke:0.2px #fff;">uncluttered</div>
<div class="t" style="left:456.13px;top:2257.70px;font-size:14.6px;font-weight:normal;color:#fff;transform:scaleX(1.1672);-webkit-text-stroke:0.2px #fff;">Include exploded</div>
<div class="t" style="left:457.30px;top:2274.00px;font-size:14.6px;font-weight:normal;color:#fff;transform:scaleX(1.1526);-webkit-text-stroke:0.2px #fff;">views and 3D</div>
<div class="t" style="left:457.30px;top:2290.10px;font-size:14.6px;font-weight:normal;color:#fff;transform:scaleX(1.1526);-webkit-text-stroke:0.2px #fff;">details where</div>
<div class="t" style="left:457.30px;top:2306.80px;font-size:14.6px;font-weight:normal;color:#fff;transform:scaleX(1.1526);-webkit-text-stroke:0.2px #fff;">necessary</div>
</body></html>
